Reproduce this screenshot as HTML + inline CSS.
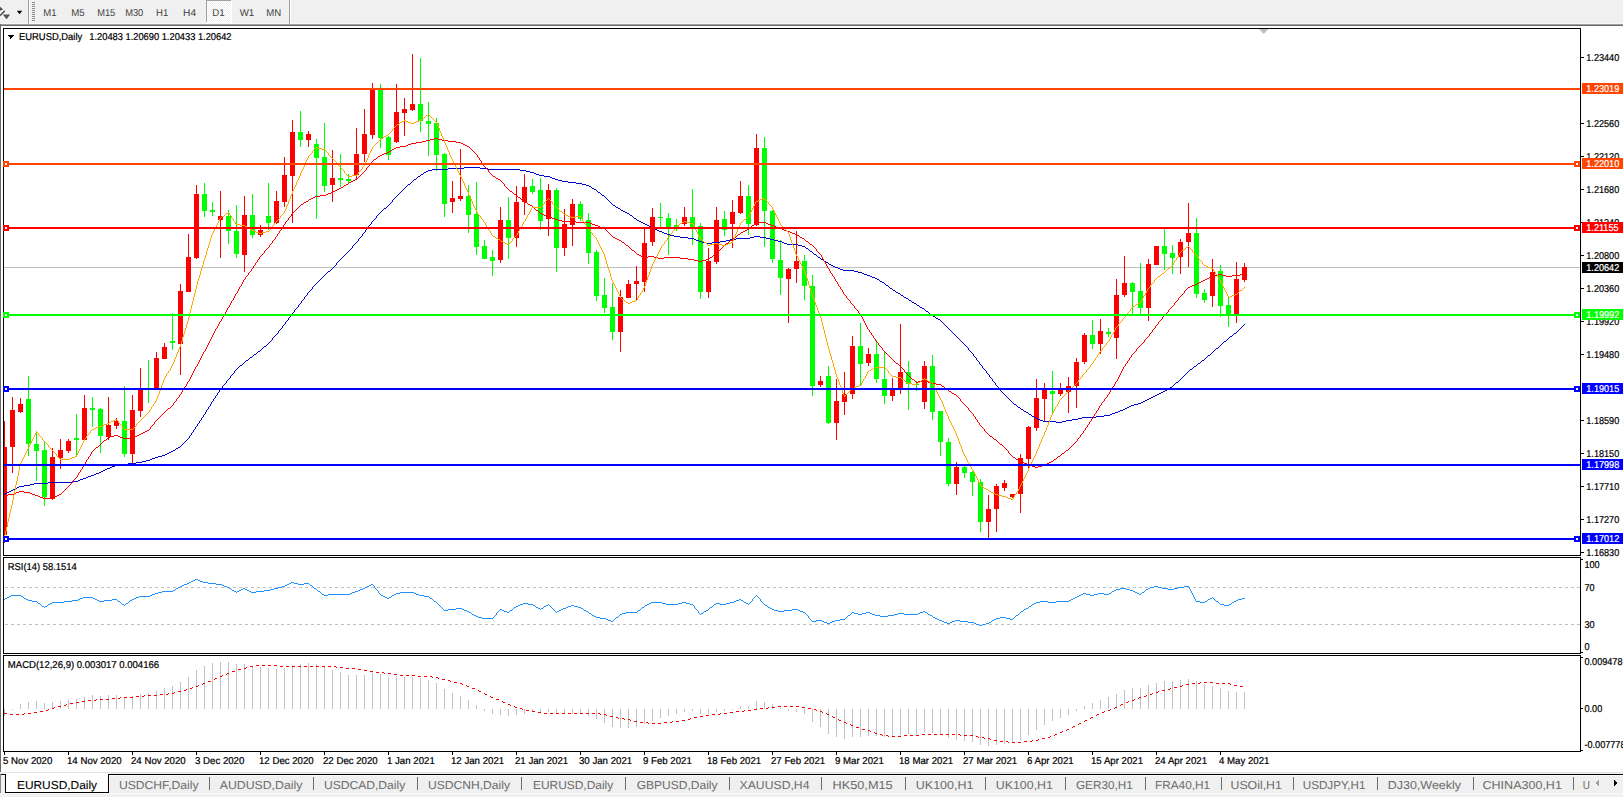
<!DOCTYPE html>
<html><head><meta charset="utf-8"><title>EURUSD,Daily</title>
<style>
html,body{margin:0;padding:0;background:#f0f0f0;}
body{width:1623px;height:797px;overflow:hidden;position:relative;}
svg{position:absolute;left:0;top:0;display:block;}
text{white-space:pre;text-rendering:geometricPrecision;}
</style></head><body>
<svg width="1623" height="797" viewBox="0 0 1623 797" shape-rendering="crispEdges">
<rect x="0" y="0" width="1623" height="23" fill="#f0f0f0"/>
<rect x="0" y="23" width="1623" height="1" fill="#f7f7f7"/>
<rect x="0" y="24" width="1623" height="1" fill="#a0a0a0"/>
<rect x="0" y="25" width="1623" height="1" fill="#696969"/>
<g shape-rendering="auto">
<path d="M0 6.5 L3.2 9.6 L0 10.8 Z" fill="#505050" stroke="#fff" stroke-width="0.8" paint-order="stroke"/>
<path d="M0 15.6 L4.7 10.9" stroke="#fff" stroke-width="3.2" fill="none"/>
<path d="M0 15.6 L4.7 10.9" stroke="#505050" stroke-width="1.7" fill="none"/>
<path d="M2.8 14.6 L10.2 14.6 L6.5 19.2 Z" fill="#505050" stroke="#fff" stroke-width="0.8" paint-order="stroke"/>
<path d="M16.8 10.8 L22.3 10.8 L19.55 14.2 Z" fill="#000" stroke="#fff" stroke-width="0.8" paint-order="stroke"/>
</g>
<rect x="28" y="0" width="1" height="24" fill="#a0a0a0"/>
<rect x="29" y="0" width="1" height="24" fill="#fdfdfd"/>
<rect x="32" y="2" width="3" height="1" fill="#8a8a8a"/>
<rect x="32" y="4" width="3" height="1" fill="#8a8a8a"/>
<rect x="32" y="6" width="3" height="1" fill="#8a8a8a"/>
<rect x="32" y="8" width="3" height="1" fill="#8a8a8a"/>
<rect x="32" y="10" width="3" height="1" fill="#8a8a8a"/>
<rect x="32" y="12" width="3" height="1" fill="#8a8a8a"/>
<rect x="32" y="14" width="3" height="1" fill="#8a8a8a"/>
<rect x="32" y="16" width="3" height="1" fill="#8a8a8a"/>
<rect x="32" y="18" width="3" height="1" fill="#8a8a8a"/>
<rect x="32" y="20" width="3" height="1" fill="#8a8a8a"/>
<defs><pattern id="chk" width="2" height="2" patternUnits="userSpaceOnUse"><rect width="2" height="2" fill="#f0f0f0"/><rect width="1" height="1" fill="#fff"/><rect x="1" y="1" width="1" height="1" fill="#fff"/></pattern></defs>
<rect x="207" y="1" width="24" height="21" fill="url(#chk)"/>
<rect x="206" y="0" width="25" height="1" fill="#a0a0a0"/>
<rect x="206" y="0" width="1" height="22" fill="#a0a0a0"/>
<rect x="231" y="0" width="1" height="23" fill="#ffffff"/>
<rect x="206" y="22" width="26" height="1" fill="#ffffff"/>
<rect x="289" y="0" width="1" height="24" fill="#a0a0a0"/>
<rect x="290" y="0" width="1" height="24" fill="#fdfdfd"/>
<text x="43.3" y="16.2" fill="#404040" style="font-family:'Liberation Sans',Arial,sans-serif;font-size:10px" textLength="13.3" lengthAdjust="spacingAndGlyphs">M1</text>
<text x="71.15" y="16.2" fill="#404040" style="font-family:'Liberation Sans',Arial,sans-serif;font-size:10px" textLength="13.5" lengthAdjust="spacingAndGlyphs">M5</text>
<text x="97.2" y="16.2" fill="#404040" style="font-family:'Liberation Sans',Arial,sans-serif;font-size:10px" textLength="18.0" lengthAdjust="spacingAndGlyphs">M15</text>
<text x="125.2" y="16.2" fill="#404040" style="font-family:'Liberation Sans',Arial,sans-serif;font-size:10px" textLength="18.1" lengthAdjust="spacingAndGlyphs">M30</text>
<text x="156.1" y="16.2" fill="#404040" style="font-family:'Liberation Sans',Arial,sans-serif;font-size:10px" textLength="12.2" lengthAdjust="spacingAndGlyphs">H1</text>
<text x="183.1" y="16.2" fill="#404040" style="font-family:'Liberation Sans',Arial,sans-serif;font-size:10px" textLength="13.0" lengthAdjust="spacingAndGlyphs">H4</text>
<text x="212.3" y="16.2" fill="#404040" style="font-family:'Liberation Sans',Arial,sans-serif;font-size:10px" textLength="12.3" lengthAdjust="spacingAndGlyphs">D1</text>
<text x="239.70000000000002" y="16.2" fill="#404040" style="font-family:'Liberation Sans',Arial,sans-serif;font-size:10px" textLength="14.5" lengthAdjust="spacingAndGlyphs">W1</text>
<text x="266.29999999999995" y="16.2" fill="#404040" style="font-family:'Liberation Sans',Arial,sans-serif;font-size:10px" textLength="14.9" lengthAdjust="spacingAndGlyphs">MN</text>
<rect x="0" y="24" width="1" height="748" fill="#696969"/>
<rect x="1" y="26" width="1622" height="746" fill="#ffffff"/>
<clipPath id="cm"><rect x="4" y="29" width="1576" height="526"/></clipPath>
<clipPath id="cr"><rect x="4" y="558" width="1576" height="95"/></clipPath>
<clipPath id="cd"><rect x="4" y="656" width="1576" height="95"/></clipPath>
<g clip-path="url(#cm)">
<rect x="4" y="267" width="1576" height="1" fill="#c0c0c0"/>
<path d="M1259 29 L1268.5 29 L1263.7 34 Z" fill="#c0c0c0" shape-rendering="auto"/>
<rect x="4" y="421" width="1" height="122" fill="#ff0000"/>
<rect x="2" y="447" width="5" height="88" fill="#ff0000"/>
<rect x="12" y="397" width="1" height="76" fill="#ff0000"/>
<rect x="10" y="410" width="5" height="37" fill="#ff0000"/>
<rect x="20" y="398" width="1" height="15" fill="#ff0000"/>
<rect x="18" y="404" width="5" height="8" fill="#ff0000"/>
<rect x="28" y="376" width="1" height="80" fill="#00ff00"/>
<rect x="26" y="399" width="5" height="45" fill="#00ff00"/>
<rect x="36" y="431" width="1" height="50" fill="#00ff00"/>
<rect x="34" y="444" width="5" height="7" fill="#00ff00"/>
<rect x="44" y="442" width="1" height="64" fill="#00ff00"/>
<rect x="42" y="450" width="5" height="47" fill="#00ff00"/>
<rect x="52" y="448" width="1" height="52" fill="#ff0000"/>
<rect x="50" y="457" width="5" height="42" fill="#ff0000"/>
<rect x="60" y="439" width="1" height="30" fill="#ff0000"/>
<rect x="58" y="450" width="5" height="8" fill="#ff0000"/>
<rect x="68" y="439" width="1" height="14" fill="#ff0000"/>
<rect x="66" y="441" width="5" height="10" fill="#ff0000"/>
<rect x="76" y="414" width="1" height="43" fill="#00ff00"/>
<rect x="74" y="438" width="5" height="2" fill="#00ff00"/>
<rect x="84" y="395" width="1" height="46" fill="#ff0000"/>
<rect x="82" y="408" width="5" height="32" fill="#ff0000"/>
<rect x="92" y="397" width="1" height="30" fill="#00ff00"/>
<rect x="90" y="408" width="5" height="2" fill="#00ff00"/>
<rect x="100" y="408" width="1" height="45" fill="#00ff00"/>
<rect x="98" y="409" width="5" height="27" fill="#00ff00"/>
<rect x="108" y="397" width="1" height="43" fill="#ff0000"/>
<rect x="106" y="425" width="5" height="12" fill="#ff0000"/>
<rect x="116" y="418" width="1" height="11" fill="#ff0000"/>
<rect x="114" y="421" width="5" height="5" fill="#ff0000"/>
<rect x="124" y="386" width="1" height="71" fill="#00ff00"/>
<rect x="122" y="421" width="5" height="33" fill="#00ff00"/>
<rect x="132" y="395" width="1" height="69" fill="#ff0000"/>
<rect x="130" y="410" width="5" height="44" fill="#ff0000"/>
<rect x="140" y="368" width="1" height="49" fill="#ff0000"/>
<rect x="138" y="390" width="5" height="21" fill="#ff0000"/>
<rect x="148" y="360" width="1" height="43" fill="#00ff00"/>
<rect x="146" y="389" width="5" height="1" fill="#00ff00"/>
<rect x="156" y="352" width="1" height="36" fill="#ff0000"/>
<rect x="154" y="358" width="5" height="30" fill="#ff0000"/>
<rect x="164" y="343" width="1" height="16" fill="#ff0000"/>
<rect x="162" y="347" width="5" height="12" fill="#ff0000"/>
<rect x="172" y="313" width="1" height="37" fill="#00ff00"/>
<rect x="170" y="341" width="5" height="2" fill="#00ff00"/>
<rect x="180" y="284" width="1" height="91" fill="#ff0000"/>
<rect x="178" y="291" width="5" height="53" fill="#ff0000"/>
<rect x="188" y="234" width="1" height="58" fill="#ff0000"/>
<rect x="186" y="257" width="5" height="35" fill="#ff0000"/>
<rect x="196" y="185" width="1" height="74" fill="#ff0000"/>
<rect x="194" y="194" width="5" height="64" fill="#ff0000"/>
<rect x="204" y="183" width="1" height="34" fill="#00ff00"/>
<rect x="202" y="194" width="5" height="17" fill="#00ff00"/>
<rect x="212" y="202" width="1" height="14" fill="#00ff00"/>
<rect x="210" y="210" width="5" height="2" fill="#00ff00"/>
<rect x="220" y="191" width="1" height="67" fill="#ff0000"/>
<rect x="218" y="216" width="5" height="4" fill="#ff0000"/>
<rect x="228" y="210" width="1" height="34" fill="#00ff00"/>
<rect x="226" y="216" width="5" height="15" fill="#00ff00"/>
<rect x="236" y="205" width="1" height="53" fill="#00ff00"/>
<rect x="234" y="231" width="5" height="23" fill="#00ff00"/>
<rect x="244" y="196" width="1" height="76" fill="#ff0000"/>
<rect x="242" y="215" width="5" height="40" fill="#ff0000"/>
<rect x="252" y="194" width="1" height="44" fill="#00ff00"/>
<rect x="250" y="215" width="5" height="20" fill="#00ff00"/>
<rect x="260" y="225" width="1" height="12" fill="#ff0000"/>
<rect x="258" y="230" width="5" height="5" fill="#ff0000"/>
<rect x="268" y="183" width="1" height="47" fill="#00ff00"/>
<rect x="266" y="216" width="5" height="7" fill="#00ff00"/>
<rect x="276" y="191" width="1" height="33" fill="#ff0000"/>
<rect x="274" y="201" width="5" height="22" fill="#ff0000"/>
<rect x="284" y="157" width="1" height="50" fill="#ff0000"/>
<rect x="282" y="175" width="5" height="27" fill="#ff0000"/>
<rect x="292" y="120" width="1" height="103" fill="#ff0000"/>
<rect x="290" y="132" width="5" height="44" fill="#ff0000"/>
<rect x="300" y="111" width="1" height="36" fill="#00ff00"/>
<rect x="298" y="132" width="5" height="8" fill="#00ff00"/>
<rect x="308" y="131" width="1" height="16" fill="#ff0000"/>
<rect x="306" y="134" width="5" height="6" fill="#ff0000"/>
<rect x="316" y="139" width="1" height="80" fill="#00ff00"/>
<rect x="314" y="144" width="5" height="14" fill="#00ff00"/>
<rect x="324" y="123" width="1" height="69" fill="#00ff00"/>
<rect x="322" y="157" width="5" height="29" fill="#00ff00"/>
<rect x="332" y="150" width="1" height="52" fill="#ff0000"/>
<rect x="330" y="178" width="5" height="7" fill="#ff0000"/>
<rect x="340" y="154" width="1" height="33" fill="#00ff00"/>
<rect x="338" y="178" width="5" height="2" fill="#00ff00"/>
<rect x="348" y="174" width="1" height="9" fill="#00ff00"/>
<rect x="346" y="179" width="5" height="2" fill="#00ff00"/>
<rect x="356" y="128" width="1" height="52" fill="#ff0000"/>
<rect x="354" y="154" width="5" height="21" fill="#ff0000"/>
<rect x="364" y="109" width="1" height="53" fill="#ff0000"/>
<rect x="362" y="134" width="5" height="20" fill="#ff0000"/>
<rect x="372" y="83" width="1" height="56" fill="#ff0000"/>
<rect x="370" y="90" width="5" height="45" fill="#ff0000"/>
<rect x="380" y="84" width="1" height="64" fill="#00ff00"/>
<rect x="378" y="90" width="5" height="48" fill="#00ff00"/>
<rect x="388" y="136" width="1" height="24" fill="#00ff00"/>
<rect x="386" y="137" width="5" height="18" fill="#00ff00"/>
<rect x="396" y="84" width="1" height="59" fill="#ff0000"/>
<rect x="394" y="112" width="5" height="30" fill="#ff0000"/>
<rect x="404" y="98" width="1" height="38" fill="#ff0000"/>
<rect x="402" y="109" width="5" height="4" fill="#ff0000"/>
<rect x="412" y="54" width="1" height="57" fill="#ff0000"/>
<rect x="410" y="104" width="5" height="6" fill="#ff0000"/>
<rect x="420" y="58" width="1" height="74" fill="#00ff00"/>
<rect x="418" y="104" width="5" height="17" fill="#00ff00"/>
<rect x="428" y="102" width="1" height="54" fill="#00ff00"/>
<rect x="426" y="121" width="5" height="3" fill="#00ff00"/>
<rect x="436" y="118" width="1" height="53" fill="#00ff00"/>
<rect x="434" y="123" width="5" height="32" fill="#00ff00"/>
<rect x="444" y="153" width="1" height="64" fill="#00ff00"/>
<rect x="442" y="154" width="5" height="50" fill="#00ff00"/>
<rect x="452" y="181" width="1" height="32" fill="#ff0000"/>
<rect x="450" y="198" width="5" height="4" fill="#ff0000"/>
<rect x="460" y="149" width="1" height="52" fill="#ff0000"/>
<rect x="458" y="196" width="5" height="3" fill="#ff0000"/>
<rect x="468" y="185" width="1" height="48" fill="#00ff00"/>
<rect x="466" y="196" width="5" height="19" fill="#00ff00"/>
<rect x="476" y="182" width="1" height="73" fill="#00ff00"/>
<rect x="474" y="214" width="5" height="33" fill="#00ff00"/>
<rect x="484" y="240" width="1" height="19" fill="#00ff00"/>
<rect x="482" y="246" width="5" height="13" fill="#00ff00"/>
<rect x="492" y="250" width="1" height="26" fill="#00ff00"/>
<rect x="490" y="257" width="5" height="4" fill="#00ff00"/>
<rect x="500" y="207" width="1" height="56" fill="#ff0000"/>
<rect x="498" y="220" width="5" height="40" fill="#ff0000"/>
<rect x="508" y="197" width="1" height="62" fill="#00ff00"/>
<rect x="506" y="220" width="5" height="18" fill="#00ff00"/>
<rect x="516" y="186" width="1" height="61" fill="#ff0000"/>
<rect x="514" y="202" width="5" height="36" fill="#ff0000"/>
<rect x="524" y="174" width="1" height="41" fill="#ff0000"/>
<rect x="522" y="187" width="5" height="15" fill="#ff0000"/>
<rect x="532" y="179" width="1" height="15" fill="#00ff00"/>
<rect x="530" y="186" width="5" height="6" fill="#00ff00"/>
<rect x="540" y="178" width="1" height="52" fill="#00ff00"/>
<rect x="538" y="190" width="5" height="31" fill="#00ff00"/>
<rect x="548" y="184" width="1" height="52" fill="#ff0000"/>
<rect x="546" y="190" width="5" height="29" fill="#ff0000"/>
<rect x="556" y="188" width="1" height="84" fill="#00ff00"/>
<rect x="554" y="190" width="5" height="58" fill="#00ff00"/>
<rect x="564" y="209" width="1" height="47" fill="#ff0000"/>
<rect x="562" y="224" width="5" height="24" fill="#ff0000"/>
<rect x="572" y="199" width="1" height="47" fill="#ff0000"/>
<rect x="570" y="204" width="5" height="21" fill="#ff0000"/>
<rect x="580" y="201" width="1" height="20" fill="#00ff00"/>
<rect x="578" y="204" width="5" height="15" fill="#00ff00"/>
<rect x="588" y="213" width="1" height="51" fill="#00ff00"/>
<rect x="586" y="220" width="5" height="33" fill="#00ff00"/>
<rect x="596" y="250" width="1" height="51" fill="#00ff00"/>
<rect x="594" y="252" width="5" height="44" fill="#00ff00"/>
<rect x="604" y="278" width="1" height="35" fill="#00ff00"/>
<rect x="602" y="295" width="5" height="13" fill="#00ff00"/>
<rect x="612" y="283" width="1" height="57" fill="#00ff00"/>
<rect x="610" y="307" width="5" height="25" fill="#00ff00"/>
<rect x="620" y="290" width="1" height="62" fill="#ff0000"/>
<rect x="618" y="297" width="5" height="35" fill="#ff0000"/>
<rect x="628" y="280" width="1" height="18" fill="#ff0000"/>
<rect x="626" y="284" width="5" height="14" fill="#ff0000"/>
<rect x="636" y="266" width="1" height="35" fill="#ff0000"/>
<rect x="634" y="281" width="5" height="3" fill="#ff0000"/>
<rect x="644" y="228" width="1" height="64" fill="#ff0000"/>
<rect x="642" y="243" width="5" height="39" fill="#ff0000"/>
<rect x="652" y="208" width="1" height="38" fill="#ff0000"/>
<rect x="650" y="217" width="5" height="25" fill="#ff0000"/>
<rect x="660" y="203" width="1" height="26" fill="#00ff00"/>
<rect x="658" y="217" width="5" height="1" fill="#00ff00"/>
<rect x="668" y="213" width="1" height="42" fill="#00ff00"/>
<rect x="666" y="218" width="5" height="9" fill="#00ff00"/>
<rect x="676" y="219" width="1" height="12" fill="#00ff00"/>
<rect x="674" y="225" width="5" height="4" fill="#00ff00"/>
<rect x="684" y="207" width="1" height="19" fill="#ff0000"/>
<rect x="682" y="217" width="5" height="7" fill="#ff0000"/>
<rect x="692" y="189" width="1" height="56" fill="#00ff00"/>
<rect x="690" y="217" width="5" height="10" fill="#00ff00"/>
<rect x="700" y="223" width="1" height="76" fill="#00ff00"/>
<rect x="698" y="226" width="5" height="66" fill="#00ff00"/>
<rect x="708" y="248" width="1" height="50" fill="#ff0000"/>
<rect x="706" y="261" width="5" height="31" fill="#ff0000"/>
<rect x="716" y="207" width="1" height="57" fill="#ff0000"/>
<rect x="714" y="220" width="5" height="42" fill="#ff0000"/>
<rect x="724" y="211" width="1" height="25" fill="#00ff00"/>
<rect x="722" y="219" width="5" height="11" fill="#00ff00"/>
<rect x="732" y="200" width="1" height="48" fill="#ff0000"/>
<rect x="730" y="212" width="5" height="12" fill="#ff0000"/>
<rect x="740" y="181" width="1" height="33" fill="#ff0000"/>
<rect x="738" y="196" width="5" height="17" fill="#ff0000"/>
<rect x="748" y="185" width="1" height="50" fill="#00ff00"/>
<rect x="746" y="196" width="5" height="28" fill="#00ff00"/>
<rect x="756" y="134" width="1" height="92" fill="#ff0000"/>
<rect x="754" y="148" width="5" height="77" fill="#ff0000"/>
<rect x="764" y="137" width="1" height="110" fill="#00ff00"/>
<rect x="762" y="148" width="5" height="63" fill="#00ff00"/>
<rect x="772" y="210" width="1" height="53" fill="#00ff00"/>
<rect x="770" y="211" width="5" height="48" fill="#00ff00"/>
<rect x="780" y="240" width="1" height="55" fill="#00ff00"/>
<rect x="778" y="260" width="5" height="18" fill="#00ff00"/>
<rect x="788" y="268" width="1" height="55" fill="#ff0000"/>
<rect x="786" y="269" width="5" height="10" fill="#ff0000"/>
<rect x="796" y="231" width="1" height="52" fill="#ff0000"/>
<rect x="794" y="261" width="5" height="8" fill="#ff0000"/>
<rect x="804" y="255" width="1" height="45" fill="#00ff00"/>
<rect x="802" y="261" width="5" height="25" fill="#00ff00"/>
<rect x="812" y="275" width="1" height="121" fill="#00ff00"/>
<rect x="810" y="286" width="5" height="100" fill="#00ff00"/>
<rect x="820" y="376" width="1" height="11" fill="#ff0000"/>
<rect x="818" y="381" width="5" height="4" fill="#ff0000"/>
<rect x="828" y="366" width="1" height="58" fill="#00ff00"/>
<rect x="826" y="376" width="5" height="47" fill="#00ff00"/>
<rect x="836" y="379" width="1" height="61" fill="#ff0000"/>
<rect x="834" y="401" width="5" height="22" fill="#ff0000"/>
<rect x="844" y="372" width="1" height="43" fill="#ff0000"/>
<rect x="842" y="394" width="5" height="8" fill="#ff0000"/>
<rect x="852" y="336" width="1" height="63" fill="#ff0000"/>
<rect x="850" y="346" width="5" height="48" fill="#ff0000"/>
<rect x="860" y="323" width="1" height="63" fill="#00ff00"/>
<rect x="858" y="346" width="5" height="18" fill="#00ff00"/>
<rect x="868" y="348" width="1" height="18" fill="#ff0000"/>
<rect x="866" y="354" width="5" height="9" fill="#ff0000"/>
<rect x="876" y="340" width="1" height="43" fill="#00ff00"/>
<rect x="874" y="354" width="5" height="25" fill="#00ff00"/>
<rect x="884" y="352" width="1" height="52" fill="#00ff00"/>
<rect x="882" y="379" width="5" height="17" fill="#00ff00"/>
<rect x="892" y="378" width="1" height="23" fill="#ff0000"/>
<rect x="890" y="388" width="5" height="8" fill="#ff0000"/>
<rect x="900" y="324" width="1" height="70" fill="#ff0000"/>
<rect x="898" y="372" width="5" height="16" fill="#ff0000"/>
<rect x="908" y="361" width="1" height="49" fill="#00ff00"/>
<rect x="906" y="372" width="5" height="12" fill="#00ff00"/>
<rect x="916" y="381" width="1" height="10" fill="#00ff00"/>
<rect x="914" y="384" width="5" height="1" fill="#00ff00"/>
<rect x="924" y="361" width="1" height="48" fill="#ff0000"/>
<rect x="922" y="366" width="5" height="36" fill="#ff0000"/>
<rect x="932" y="355" width="1" height="65" fill="#00ff00"/>
<rect x="930" y="366" width="5" height="46" fill="#00ff00"/>
<rect x="940" y="411" width="1" height="45" fill="#00ff00"/>
<rect x="938" y="411" width="5" height="31" fill="#00ff00"/>
<rect x="948" y="438" width="1" height="48" fill="#00ff00"/>
<rect x="946" y="442" width="5" height="42" fill="#00ff00"/>
<rect x="956" y="462" width="1" height="33" fill="#ff0000"/>
<rect x="954" y="467" width="5" height="17" fill="#ff0000"/>
<rect x="964" y="466" width="1" height="12" fill="#00ff00"/>
<rect x="962" y="467" width="5" height="6" fill="#00ff00"/>
<rect x="972" y="471" width="1" height="25" fill="#00ff00"/>
<rect x="970" y="472" width="5" height="10" fill="#00ff00"/>
<rect x="980" y="479" width="1" height="53" fill="#00ff00"/>
<rect x="978" y="482" width="5" height="40" fill="#00ff00"/>
<rect x="988" y="495" width="1" height="43" fill="#ff0000"/>
<rect x="986" y="509" width="5" height="13" fill="#ff0000"/>
<rect x="996" y="484" width="1" height="48" fill="#ff0000"/>
<rect x="994" y="486" width="5" height="23" fill="#ff0000"/>
<rect x="1004" y="480" width="1" height="11" fill="#ff0000"/>
<rect x="1002" y="483" width="5" height="5" fill="#ff0000"/>
<rect x="1012" y="494" width="1" height="4" fill="#ff0000"/>
<rect x="1010" y="494" width="5" height="3" fill="#ff0000"/>
<rect x="1020" y="454" width="1" height="59" fill="#ff0000"/>
<rect x="1018" y="458" width="5" height="36" fill="#ff0000"/>
<rect x="1028" y="426" width="1" height="43" fill="#ff0000"/>
<rect x="1026" y="427" width="5" height="32" fill="#ff0000"/>
<rect x="1036" y="379" width="1" height="52" fill="#ff0000"/>
<rect x="1034" y="398" width="5" height="30" fill="#ff0000"/>
<rect x="1044" y="383" width="1" height="38" fill="#ff0000"/>
<rect x="1042" y="388" width="5" height="11" fill="#ff0000"/>
<rect x="1052" y="371" width="1" height="44" fill="#00ff00"/>
<rect x="1050" y="391" width="5" height="3" fill="#00ff00"/>
<rect x="1060" y="383" width="1" height="13" fill="#ff0000"/>
<rect x="1058" y="390" width="5" height="4" fill="#ff0000"/>
<rect x="1068" y="377" width="1" height="36" fill="#ff0000"/>
<rect x="1066" y="386" width="5" height="6" fill="#ff0000"/>
<rect x="1076" y="358" width="1" height="50" fill="#ff0000"/>
<rect x="1074" y="362" width="5" height="24" fill="#ff0000"/>
<rect x="1084" y="333" width="1" height="31" fill="#ff0000"/>
<rect x="1082" y="335" width="5" height="27" fill="#ff0000"/>
<rect x="1092" y="320" width="1" height="29" fill="#00ff00"/>
<rect x="1090" y="335" width="5" height="9" fill="#00ff00"/>
<rect x="1100" y="319" width="1" height="35" fill="#ff0000"/>
<rect x="1098" y="331" width="5" height="13" fill="#ff0000"/>
<rect x="1108" y="328" width="1" height="9" fill="#00ff00"/>
<rect x="1106" y="332" width="5" height="2" fill="#00ff00"/>
<rect x="1116" y="279" width="1" height="80" fill="#ff0000"/>
<rect x="1114" y="295" width="5" height="43" fill="#ff0000"/>
<rect x="1124" y="256" width="1" height="41" fill="#ff0000"/>
<rect x="1122" y="283" width="5" height="12" fill="#ff0000"/>
<rect x="1132" y="282" width="1" height="34" fill="#00ff00"/>
<rect x="1130" y="283" width="5" height="9" fill="#00ff00"/>
<rect x="1140" y="263" width="1" height="51" fill="#00ff00"/>
<rect x="1138" y="291" width="5" height="17" fill="#00ff00"/>
<rect x="1148" y="259" width="1" height="62" fill="#ff0000"/>
<rect x="1146" y="264" width="5" height="44" fill="#ff0000"/>
<rect x="1156" y="246" width="1" height="19" fill="#ff0000"/>
<rect x="1154" y="246" width="5" height="19" fill="#ff0000"/>
<rect x="1164" y="229" width="1" height="41" fill="#00ff00"/>
<rect x="1162" y="246" width="5" height="8" fill="#00ff00"/>
<rect x="1172" y="245" width="1" height="29" fill="#00ff00"/>
<rect x="1170" y="253" width="5" height="5" fill="#00ff00"/>
<rect x="1180" y="239" width="1" height="35" fill="#ff0000"/>
<rect x="1178" y="242" width="5" height="15" fill="#ff0000"/>
<rect x="1188" y="203" width="1" height="64" fill="#ff0000"/>
<rect x="1186" y="233" width="5" height="9" fill="#ff0000"/>
<rect x="1196" y="218" width="1" height="80" fill="#00ff00"/>
<rect x="1194" y="233" width="5" height="61" fill="#00ff00"/>
<rect x="1204" y="289" width="1" height="14" fill="#00ff00"/>
<rect x="1202" y="293" width="5" height="7" fill="#00ff00"/>
<rect x="1212" y="259" width="1" height="48" fill="#ff0000"/>
<rect x="1210" y="272" width="5" height="24" fill="#ff0000"/>
<rect x="1220" y="265" width="1" height="52" fill="#00ff00"/>
<rect x="1218" y="271" width="5" height="35" fill="#00ff00"/>
<rect x="1228" y="298" width="1" height="29" fill="#00ff00"/>
<rect x="1226" y="305" width="5" height="9" fill="#00ff00"/>
<rect x="1236" y="262" width="1" height="61" fill="#ff0000"/>
<rect x="1234" y="279" width="5" height="35" fill="#ff0000"/>
<rect x="1244" y="263" width="1" height="19" fill="#ff0000"/>
<rect x="1242" y="267" width="5" height="13" fill="#ff0000"/>
<path d="M464 167h16v1h-16zM448 168h16v1h-16zM480 168h8v1h-8zM432 169h16v1h-16zM488 169h32v1h-32zM428 170h4v1h-4zM520 170h6v1h-6zM426 171h2v1h-2zM526 171h4v1h-4zM424 172h2v1h-2zM530 172h4v1h-4zM423 173h1v1h-1zM534 173h2v1h-2zM421 174h2v1h-2zM536 174h3v1h-3zM420 175h1v1h-1zM539 175h5v1h-5zM418 176h2v1h-2zM544 176h6v1h-6zM417 177h1v1h-1zM550 177h2v1h-2zM416 178h1v1h-1zM552 178h3v1h-3zM414 179h2v1h-2zM555 179h3v1h-3zM413 180h1v1h-1zM558 180h4v1h-4zM412 181h1v1h-1zM562 181h6v1h-6zM411 182h1v1h-1zM568 182h8v1h-8zM410 183h1v1h-1zM576 183h6v1h-6zM408 184h2v1h-2zM582 184h4v1h-4zM407 185h1v1h-1zM586 185h3v1h-3zM406 186h1v1h-1zM589 186h2v1h-2zM405 187h1v1h-1zM591 187h1v1h-1zM404 188h1v1h-1zM592 188h2v1h-2zM403 189h1v1h-1zM594 189h2v1h-2zM402 190h1v1h-1zM596 190h1v1h-1zM401 191h1v1h-1zM597 191h1v1h-1zM400 192h1v1h-1zM598 192h2v1h-2zM399 193h1v1h-1zM600 193h1v1h-1zM398 194h1v1h-1zM601 194h1v1h-1zM397 195h1v1h-1zM602 195h2v1h-2zM396 196h1v1h-1zM604 196h1v1h-1zM395 197h1v1h-1zM605 197h1v1h-1zM394 198h1v1h-1zM606 198h1v1h-1zM393 199h1v1h-1zM607 199h1v1h-1zM392 200h1v1h-1zM608 200h1v1h-1zM392 201h1v1h-1zM609 201h1v1h-1zM391 202h1v1h-1zM610 202h1v1h-1zM390 203h1v1h-1zM611 203h1v1h-1zM389 204h1v1h-1zM612 204h1v1h-1zM388 205h1v1h-1zM613 205h2v1h-2zM387 206h1v1h-1zM615 206h1v1h-1zM386 207h1v1h-1zM616 207h2v1h-2zM384 208h2v1h-2zM618 208h2v1h-2zM383 209h1v1h-1zM620 209h1v1h-1zM382 210h1v1h-1zM621 210h2v1h-2zM381 211h1v1h-1zM623 211h2v1h-2zM380 212h1v1h-1zM625 212h2v1h-2zM379 213h1v1h-1zM627 213h2v1h-2zM378 214h1v1h-1zM629 214h1v1h-1zM377 215h1v1h-1zM630 215h2v1h-2zM376 216h1v1h-1zM632 216h1v1h-1zM376 217h1v1h-1zM633 217h1v1h-1zM375 218h1v1h-1zM634 218h2v1h-2zM374 219h1v1h-1zM636 219h1v1h-1zM373 220h1v1h-1zM637 220h2v1h-2zM372 221h1v1h-1zM639 221h2v1h-2zM371 222h1v1h-1zM641 222h2v1h-2zM371 223h1v1h-1zM643 223h2v1h-2zM370 224h1v1h-1zM645 224h2v1h-2zM369 225h1v1h-1zM647 225h2v1h-2zM368 226h1v1h-1zM649 226h2v1h-2zM368 227h1v1h-1zM651 227h2v1h-2zM367 228h1v1h-1zM653 228h2v1h-2zM366 229h1v1h-1zM655 229h2v1h-2zM365 230h1v1h-1zM657 230h2v1h-2zM365 231h1v1h-1zM659 231h3v1h-3zM364 232h1v1h-1zM662 232h2v1h-2zM363 233h1v1h-1zM664 233h3v1h-3zM362 234h1v1h-1zM667 234h3v1h-3zM362 235h1v1h-1zM670 235h4v1h-4zM361 236h1v1h-1zM674 236h6v1h-6zM754 236h6v1h-6zM360 237h1v1h-1zM680 237h8v1h-8zM750 237h4v1h-4zM760 237h6v1h-6zM359 238h1v1h-1zM688 238h6v1h-6zM736 238h14v1h-14zM766 238h4v1h-4zM358 239h1v1h-1zM694 239h2v1h-2zM730 239h6v1h-6zM770 239h4v1h-4zM358 240h1v1h-1zM696 240h3v1h-3zM726 240h4v1h-4zM774 240h4v1h-4zM357 241h1v1h-1zM699 241h3v1h-3zM720 241h6v1h-6zM778 241h4v1h-4zM356 242h1v1h-1zM702 242h4v1h-4zM712 242h8v1h-8zM782 242h2v1h-2zM355 243h1v1h-1zM706 243h6v1h-6zM784 243h3v1h-3zM354 244h1v1h-1zM787 244h11v1h-11zM353 245h1v1h-1zM798 245h4v1h-4zM352 246h1v1h-1zM802 246h3v1h-3zM352 247h1v1h-1zM805 247h1v1h-1zM351 248h1v1h-1zM806 248h2v1h-2zM350 249h1v1h-1zM808 249h1v1h-1zM349 250h1v1h-1zM809 250h1v1h-1zM348 251h1v1h-1zM810 251h2v1h-2zM347 252h1v1h-1zM812 252h1v1h-1zM346 253h1v1h-1zM813 253h1v1h-1zM345 254h1v1h-1zM814 254h2v1h-2zM344 255h1v1h-1zM816 255h1v1h-1zM343 256h1v1h-1zM817 256h1v1h-1zM342 257h1v1h-1zM818 257h2v1h-2zM341 258h1v1h-1zM820 258h1v1h-1zM340 259h1v1h-1zM821 259h2v1h-2zM339 260h1v1h-1zM823 260h1v1h-1zM338 261h1v1h-1zM824 261h2v1h-2zM337 262h1v1h-1zM826 262h2v1h-2zM336 263h1v1h-1zM828 263h1v1h-1zM336 264h1v1h-1zM829 264h2v1h-2zM335 265h1v1h-1zM831 265h2v1h-2zM334 266h1v1h-1zM833 266h2v1h-2zM333 267h1v1h-1zM835 267h3v1h-3zM332 268h1v1h-1zM838 268h2v1h-2zM331 269h1v1h-1zM840 269h3v1h-3zM330 270h1v1h-1zM843 270h11v1h-11zM328 271h2v1h-2zM854 271h4v1h-4zM327 272h1v1h-1zM858 272h4v1h-4zM326 273h1v1h-1zM862 273h2v1h-2zM325 274h1v1h-1zM864 274h3v1h-3zM324 275h1v1h-1zM867 275h3v1h-3zM323 276h1v1h-1zM870 276h2v1h-2zM322 277h1v1h-1zM872 277h3v1h-3zM321 278h1v1h-1zM875 278h2v1h-2zM320 279h1v1h-1zM877 279h2v1h-2zM319 280h1v1h-1zM879 280h1v1h-1zM318 281h1v1h-1zM880 281h2v1h-2zM317 282h1v1h-1zM882 282h2v1h-2zM316 283h1v1h-1zM884 283h1v1h-1zM315 284h1v1h-1zM885 284h1v1h-1zM314 285h1v1h-1zM886 285h2v1h-2zM313 286h1v1h-1zM888 286h1v1h-1zM312 287h1v1h-1zM889 287h1v1h-1zM312 288h1v1h-1zM890 288h2v1h-2zM311 289h1v1h-1zM892 289h1v1h-1zM310 290h1v1h-1zM893 290h2v1h-2zM309 291h1v1h-1zM895 291h1v1h-1zM308 292h1v1h-1zM896 292h2v1h-2zM307 293h1v1h-1zM898 293h2v1h-2zM307 294h1v1h-1zM900 294h1v1h-1zM306 295h1v1h-1zM901 295h2v1h-2zM305 296h1v1h-1zM903 296h1v1h-1zM304 297h1v1h-1zM904 297h2v1h-2zM304 298h1v1h-1zM906 298h2v1h-2zM303 299h1v1h-1zM908 299h1v1h-1zM302 300h1v1h-1zM909 300h2v1h-2zM301 301h1v1h-1zM911 301h1v1h-1zM301 302h1v1h-1zM912 302h2v1h-2zM300 303h1v1h-1zM914 303h2v1h-2zM299 304h1v1h-1zM916 304h1v1h-1zM298 305h1v1h-1zM917 305h2v1h-2zM298 306h1v1h-1zM919 306h1v1h-1zM297 307h1v1h-1zM920 307h2v1h-2zM296 308h1v1h-1zM922 308h2v1h-2zM295 309h1v1h-1zM924 309h1v1h-1zM294 310h1v1h-1zM925 310h1v1h-1zM294 311h1v1h-1zM926 311h2v1h-2zM293 312h1v1h-1zM928 312h1v1h-1zM292 313h1v1h-1zM929 313h1v1h-1zM291 314h1v1h-1zM930 314h2v1h-2zM291 315h1v1h-1zM932 315h1v1h-1zM290 316h1v1h-1zM933 316h2v1h-2zM289 317h1v1h-1zM935 317h1v1h-1zM288 318h1v1h-1zM936 318h2v1h-2zM288 319h1v1h-1zM938 319h2v1h-2zM287 320h1v1h-1zM940 320h1v1h-1zM286 321h1v1h-1zM941 321h1v1h-1zM285 322h1v1h-1zM942 322h1v1h-1zM285 323h1v1h-1zM943 323h1v1h-1zM284 324h1v1h-1zM944 324h1v1h-1zM1244 324h1v1h-1zM283 325h1v1h-1zM945 325h1v1h-1zM1243 325h1v1h-1zM282 326h1v1h-1zM946 326h1v1h-1zM1242 326h1v1h-1zM282 327h1v1h-1zM947 327h1v1h-1zM1241 327h1v1h-1zM281 328h1v1h-1zM948 328h1v1h-1zM1240 328h1v1h-1zM280 329h1v1h-1zM949 329h1v1h-1zM1239 329h1v1h-1zM279 330h1v1h-1zM950 330h1v1h-1zM1238 330h1v1h-1zM278 331h1v1h-1zM951 331h1v1h-1zM1237 331h1v1h-1zM278 332h1v1h-1zM952 332h1v1h-1zM1236 332h1v1h-1zM277 333h1v1h-1zM953 333h1v1h-1zM1234 333h2v1h-2zM276 334h1v1h-1zM954 334h1v1h-1zM1233 334h1v1h-1zM275 335h1v1h-1zM955 335h1v1h-1zM1232 335h1v1h-1zM274 336h1v1h-1zM956 336h1v1h-1zM1230 336h2v1h-2zM273 337h1v1h-1zM957 337h1v1h-1zM1229 337h1v1h-1zM272 338h1v1h-1zM958 338h1v1h-1zM1228 338h1v1h-1zM272 339h1v1h-1zM959 339h1v1h-1zM1227 339h1v1h-1zM271 340h1v1h-1zM960 340h1v1h-1zM1226 340h1v1h-1zM270 341h1v1h-1zM961 341h1v1h-1zM1224 341h2v1h-2zM269 342h1v1h-1zM962 342h1v1h-1zM1223 342h1v1h-1zM268 343h1v1h-1zM963 343h1v1h-1zM1222 343h1v1h-1zM267 344h1v1h-1zM964 344h1v1h-1zM1221 344h1v1h-1zM266 345h1v1h-1zM965 345h1v1h-1zM1220 345h1v1h-1zM264 346h2v1h-2zM966 346h1v1h-1zM1219 346h1v1h-1zM263 347h1v1h-1zM967 347h1v1h-1zM1218 347h1v1h-1zM262 348h1v1h-1zM968 348h1v1h-1zM1216 348h2v1h-2zM261 349h1v1h-1zM968 349h1v1h-1zM1215 349h1v1h-1zM260 350h1v1h-1zM969 350h1v1h-1zM1214 350h1v1h-1zM258 351h2v1h-2zM970 351h1v1h-1zM1213 351h1v1h-1zM257 352h1v1h-1zM971 352h1v1h-1zM1212 352h1v1h-1zM256 353h1v1h-1zM972 353h1v1h-1zM1211 353h1v1h-1zM254 354h2v1h-2zM973 354h1v1h-1zM1210 354h1v1h-1zM253 355h1v1h-1zM973 355h1v1h-1zM1208 355h2v1h-2zM252 356h1v1h-1zM974 356h1v1h-1zM1207 356h1v1h-1zM250 357h2v1h-2zM975 357h1v1h-1zM1206 357h1v1h-1zM249 358h1v1h-1zM976 358h1v1h-1zM1205 358h1v1h-1zM248 359h1v1h-1zM976 359h1v1h-1zM1204 359h1v1h-1zM246 360h2v1h-2zM977 360h1v1h-1zM1202 360h2v1h-2zM245 361h1v1h-1zM978 361h1v1h-1zM1201 361h1v1h-1zM244 362h1v1h-1zM979 362h1v1h-1zM1200 362h1v1h-1zM243 363h1v1h-1zM979 363h1v1h-1zM1198 363h2v1h-2zM242 364h1v1h-1zM980 364h1v1h-1zM1197 364h1v1h-1zM240 365h2v1h-2zM981 365h1v1h-1zM1196 365h1v1h-1zM239 366h1v1h-1zM982 366h1v1h-1zM1194 366h2v1h-2zM238 367h1v1h-1zM982 367h1v1h-1zM1193 367h1v1h-1zM237 368h1v1h-1zM983 368h1v1h-1zM1192 368h1v1h-1zM236 369h1v1h-1zM984 369h1v1h-1zM1190 369h2v1h-2zM235 370h1v1h-1zM985 370h1v1h-1zM1189 370h1v1h-1zM234 371h1v1h-1zM986 371h1v1h-1zM1188 371h1v1h-1zM234 372h1v1h-1zM986 372h1v1h-1zM1187 372h1v1h-1zM233 373h1v1h-1zM987 373h1v1h-1zM1186 373h1v1h-1zM232 374h1v1h-1zM988 374h1v1h-1zM1185 374h1v1h-1zM231 375h1v1h-1zM989 375h1v1h-1zM1184 375h1v1h-1zM230 376h1v1h-1zM989 376h1v1h-1zM1183 376h1v1h-1zM230 377h1v1h-1zM990 377h1v1h-1zM1182 377h1v1h-1zM229 378h1v1h-1zM991 378h1v1h-1zM1181 378h1v1h-1zM228 379h1v1h-1zM992 379h1v1h-1zM1180 379h1v1h-1zM227 380h1v1h-1zM992 380h1v1h-1zM1179 380h1v1h-1zM226 381h1v1h-1zM993 381h1v1h-1zM1178 381h1v1h-1zM226 382h1v1h-1zM994 382h1v1h-1zM1176 382h2v1h-2zM225 383h1v1h-1zM995 383h1v1h-1zM1175 383h1v1h-1zM224 384h1v1h-1zM995 384h1v1h-1zM1174 384h1v1h-1zM223 385h1v1h-1zM996 385h1v1h-1zM1173 385h1v1h-1zM222 386h1v1h-1zM997 386h1v1h-1zM1172 386h1v1h-1zM222 387h1v1h-1zM998 387h1v1h-1zM1170 387h2v1h-2zM221 388h1v1h-1zM999 388h1v1h-1zM1168 388h2v1h-2zM220 389h1v1h-1zM1000 389h1v1h-1zM1167 389h1v1h-1zM219 390h1v1h-1zM1000 390h1v1h-1zM1165 390h2v1h-2zM219 391h1v1h-1zM1001 391h1v1h-1zM1163 391h2v1h-2zM218 392h1v1h-1zM1002 392h1v1h-1zM1161 392h2v1h-2zM217 393h1v1h-1zM1003 393h1v1h-1zM1159 393h2v1h-2zM217 394h1v1h-1zM1004 394h1v1h-1zM1157 394h2v1h-2zM216 395h1v1h-1zM1005 395h1v1h-1zM1155 395h2v1h-2zM215 396h1v1h-1zM1006 396h1v1h-1zM1153 396h2v1h-2zM215 397h1v1h-1zM1007 397h1v1h-1zM1151 397h2v1h-2zM214 398h1v1h-1zM1008 398h1v1h-1zM1149 398h2v1h-2zM213 399h1v1h-1zM1009 399h1v1h-1zM1147 399h2v1h-2zM213 400h1v1h-1zM1010 400h1v1h-1zM1145 400h2v1h-2zM212 401h1v1h-1zM1011 401h1v1h-1zM1143 401h2v1h-2zM211 402h1v1h-1zM1012 402h1v1h-1zM1141 402h2v1h-2zM211 403h1v1h-1zM1013 403h1v1h-1zM1138 403h3v1h-3zM210 404h1v1h-1zM1014 404h2v1h-2zM1134 404h4v1h-4zM210 405h1v1h-1zM1016 405h1v1h-1zM1131 405h3v1h-3zM209 406h1v1h-1zM1017 406h1v1h-1zM1129 406h2v1h-2zM208 407h1v1h-1zM1018 407h2v1h-2zM1127 407h2v1h-2zM208 408h1v1h-1zM1020 408h1v1h-1zM1125 408h2v1h-2zM207 409h1v1h-1zM1021 409h2v1h-2zM1123 409h2v1h-2zM206 410h1v1h-1zM1023 410h1v1h-1zM1120 410h3v1h-3zM206 411h1v1h-1zM1024 411h2v1h-2zM1118 411h2v1h-2zM205 412h1v1h-1zM1026 412h2v1h-2zM1115 412h3v1h-3zM205 413h1v1h-1zM1028 413h1v1h-1zM1112 413h3v1h-3zM204 414h1v1h-1zM1029 414h2v1h-2zM1110 414h2v1h-2zM203 415h1v1h-1zM1031 415h1v1h-1zM1104 415h6v1h-6zM203 416h1v1h-1zM1032 416h2v1h-2zM1096 416h8v1h-8zM202 417h1v1h-1zM1034 417h2v1h-2zM1082 417h14v1h-14zM201 418h1v1h-1zM1036 418h2v1h-2zM1078 418h4v1h-4zM201 419h1v1h-1zM1038 419h2v1h-2zM1072 419h6v1h-6zM200 420h1v1h-1zM1040 420h3v1h-3zM1066 420h6v1h-6zM199 421h1v1h-1zM1043 421h13v1h-13zM1062 421h4v1h-4zM199 422h1v1h-1zM1056 422h6v1h-6zM198 423h1v1h-1zM197 424h1v1h-1zM197 425h1v1h-1zM196 426h1v1h-1zM195 427h1v1h-1zM195 428h1v1h-1zM194 429h1v1h-1zM193 430h1v1h-1zM193 431h1v1h-1zM192 432h1v1h-1zM191 433h1v1h-1zM191 434h1v1h-1zM190 435h1v1h-1zM189 436h1v1h-1zM189 437h1v1h-1zM188 438h1v1h-1zM187 439h1v1h-1zM186 440h1v1h-1zM185 441h1v1h-1zM184 442h1v1h-1zM183 443h1v1h-1zM182 444h1v1h-1zM181 445h1v1h-1zM180 446h1v1h-1zM178 447h2v1h-2zM176 448h2v1h-2zM175 449h1v1h-1zM173 450h2v1h-2zM171 451h2v1h-2zM169 452h2v1h-2zM167 453h2v1h-2zM165 454h2v1h-2zM162 455h3v1h-3zM158 456h4v1h-4zM155 457h3v1h-3zM152 458h3v1h-3zM150 459h2v1h-2zM146 460h4v1h-4zM142 461h4v1h-4zM136 462h6v1h-6zM128 463h8v1h-8zM120 464h8v1h-8zM115 465h5v1h-5zM112 466h3v1h-3zM110 467h2v1h-2zM107 468h3v1h-3zM105 469h2v1h-2zM103 470h2v1h-2zM101 471h2v1h-2zM99 472h2v1h-2zM96 473h3v1h-3zM94 474h2v1h-2zM91 475h3v1h-3zM88 476h3v1h-3zM86 477h2v1h-2zM83 478h3v1h-3zM80 479h3v1h-3zM78 480h2v1h-2zM72 481h6v1h-6zM48 482h24v1h-24zM34 483h14v1h-14zM30 484h4v1h-4zM24 485h6v1h-6zM19 486h5v1h-5zM17 487h2v1h-2zM15 488h2v1h-2zM13 489h2v1h-2zM11 490h2v1h-2zM9 491h2v1h-2zM7 492h2v1h-2zM5 493h2v1h-2zM4 494h1v1h-1z" fill="#0000cd"/>
<path d="M434 138h4v1h-4zM430 139h4v1h-4zM438 139h4v1h-4zM426 140h4v1h-4zM442 140h6v1h-6zM422 141h4v1h-4zM448 141h8v1h-8zM416 142h6v1h-6zM456 142h5v1h-5zM411 143h5v1h-5zM461 143h2v1h-2zM408 144h3v1h-3zM463 144h2v1h-2zM406 145h2v1h-2zM465 145h2v1h-2zM400 146h6v1h-6zM467 146h2v1h-2zM396 147h4v1h-4zM469 147h1v1h-1zM394 148h2v1h-2zM470 148h1v1h-1zM392 149h2v1h-2zM471 149h1v1h-1zM391 150h1v1h-1zM472 150h1v1h-1zM389 151h2v1h-2zM473 151h1v1h-1zM387 152h2v1h-2zM474 152h1v1h-1zM384 153h3v1h-3zM475 153h1v1h-1zM382 154h2v1h-2zM476 154h1v1h-1zM380 155h2v1h-2zM477 155h1v1h-1zM378 156h2v1h-2zM477 156h1v1h-1zM377 157h1v1h-1zM478 157h1v1h-1zM376 158h1v1h-1zM479 158h1v1h-1zM374 159h2v1h-2zM479 159h1v1h-1zM373 160h1v1h-1zM480 160h1v1h-1zM372 161h1v1h-1zM481 161h1v1h-1zM371 162h1v1h-1zM481 162h1v1h-1zM370 163h1v1h-1zM482 163h1v1h-1zM370 164h1v1h-1zM483 164h1v1h-1zM369 165h1v1h-1zM483 165h1v1h-1zM368 166h1v1h-1zM484 166h1v1h-1zM367 167h1v1h-1zM485 167h1v1h-1zM366 168h1v1h-1zM486 168h1v1h-1zM366 169h1v1h-1zM487 169h1v1h-1zM365 170h1v1h-1zM488 170h1v1h-1zM364 171h1v1h-1zM488 171h1v1h-1zM363 172h1v1h-1zM489 172h1v1h-1zM362 173h1v1h-1zM490 173h1v1h-1zM361 174h1v1h-1zM491 174h1v1h-1zM360 175h1v1h-1zM492 175h1v1h-1zM359 176h1v1h-1zM493 176h2v1h-2zM358 177h1v1h-1zM495 177h1v1h-1zM357 178h1v1h-1zM496 178h2v1h-2zM355 179h2v1h-2zM498 179h2v1h-2zM353 180h2v1h-2zM500 180h1v1h-1zM351 181h2v1h-2zM501 181h1v1h-1zM349 182h2v1h-2zM502 182h1v1h-1zM348 183h1v1h-1zM503 183h1v1h-1zM346 184h2v1h-2zM504 184h1v1h-1zM344 185h2v1h-2zM504 185h1v1h-1zM343 186h1v1h-1zM505 186h1v1h-1zM341 187h2v1h-2zM506 187h1v1h-1zM339 188h2v1h-2zM507 188h1v1h-1zM337 189h2v1h-2zM508 189h1v1h-1zM335 190h2v1h-2zM509 190h1v1h-1zM333 191h2v1h-2zM510 191h2v1h-2zM331 192h2v1h-2zM512 192h1v1h-1zM328 193h3v1h-3zM513 193h1v1h-1zM326 194h2v1h-2zM514 194h2v1h-2zM320 195h6v1h-6zM516 195h1v1h-1zM315 196h5v1h-5zM517 196h1v1h-1zM313 197h2v1h-2zM518 197h2v1h-2zM311 198h2v1h-2zM520 198h1v1h-1zM309 199h2v1h-2zM521 199h1v1h-1zM308 200h1v1h-1zM522 200h2v1h-2zM306 201h2v1h-2zM524 201h1v1h-1zM304 202h2v1h-2zM525 202h2v1h-2zM303 203h1v1h-1zM527 203h1v1h-1zM301 204h2v1h-2zM528 204h2v1h-2zM300 205h1v1h-1zM530 205h2v1h-2zM299 206h1v1h-1zM532 206h1v1h-1zM298 207h1v1h-1zM533 207h1v1h-1zM297 208h1v1h-1zM534 208h1v1h-1zM296 209h1v1h-1zM535 209h1v1h-1zM295 210h1v1h-1zM536 210h2v1h-2zM294 211h1v1h-1zM538 211h1v1h-1zM293 212h1v1h-1zM539 212h1v1h-1zM292 213h1v1h-1zM540 213h2v1h-2zM291 214h1v1h-1zM542 214h2v1h-2zM291 215h1v1h-1zM544 215h3v1h-3zM290 216h1v1h-1zM547 216h3v1h-3zM289 217h1v1h-1zM550 217h2v1h-2zM288 218h1v1h-1zM552 218h3v1h-3zM288 219h1v1h-1zM555 219h3v1h-3zM287 220h1v1h-1zM558 220h4v1h-4zM286 221h1v1h-1zM562 221h14v1h-14zM285 222h1v1h-1zM576 222h14v1h-14zM756 222h10v1h-10zM285 223h1v1h-1zM590 223h2v1h-2zM755 223h1v1h-1zM766 223h2v1h-2zM284 224h1v1h-1zM592 224h3v1h-3zM754 224h1v1h-1zM768 224h3v1h-3zM283 225h1v1h-1zM595 225h3v1h-3zM752 225h2v1h-2zM771 225h3v1h-3zM283 226h1v1h-1zM598 226h2v1h-2zM751 226h1v1h-1zM774 226h2v1h-2zM282 227h1v1h-1zM600 227h3v1h-3zM750 227h1v1h-1zM776 227h3v1h-3zM281 228h1v1h-1zM603 228h2v1h-2zM749 228h1v1h-1zM779 228h3v1h-3zM281 229h1v1h-1zM605 229h1v1h-1zM747 229h2v1h-2zM782 229h2v1h-2zM280 230h1v1h-1zM606 230h1v1h-1zM745 230h2v1h-2zM784 230h3v1h-3zM279 231h1v1h-1zM607 231h1v1h-1zM743 231h2v1h-2zM787 231h3v1h-3zM279 232h1v1h-1zM608 232h1v1h-1zM741 232h2v1h-2zM790 232h2v1h-2zM278 233h1v1h-1zM609 233h1v1h-1zM740 233h1v1h-1zM792 233h3v1h-3zM277 234h1v1h-1zM610 234h1v1h-1zM738 234h2v1h-2zM795 234h2v1h-2zM277 235h1v1h-1zM611 235h1v1h-1zM737 235h1v1h-1zM797 235h2v1h-2zM276 236h1v1h-1zM612 236h1v1h-1zM736 236h1v1h-1zM799 236h1v1h-1zM275 237h1v1h-1zM613 237h2v1h-2zM734 237h2v1h-2zM800 237h2v1h-2zM275 238h1v1h-1zM615 238h2v1h-2zM733 238h1v1h-1zM802 238h2v1h-2zM274 239h1v1h-1zM617 239h2v1h-2zM732 239h1v1h-1zM804 239h1v1h-1zM273 240h1v1h-1zM619 240h2v1h-2zM730 240h2v1h-2zM805 240h1v1h-1zM272 241h1v1h-1zM621 241h1v1h-1zM729 241h1v1h-1zM806 241h2v1h-2zM272 242h1v1h-1zM622 242h2v1h-2zM728 242h1v1h-1zM808 242h1v1h-1zM271 243h1v1h-1zM624 243h1v1h-1zM726 243h2v1h-2zM809 243h1v1h-1zM270 244h1v1h-1zM625 244h1v1h-1zM725 244h1v1h-1zM810 244h2v1h-2zM269 245h1v1h-1zM626 245h2v1h-2zM724 245h1v1h-1zM812 245h1v1h-1zM269 246h1v1h-1zM628 246h1v1h-1zM723 246h1v1h-1zM813 246h1v1h-1zM268 247h1v1h-1zM629 247h1v1h-1zM722 247h1v1h-1zM814 247h1v1h-1zM267 248h1v1h-1zM630 248h1v1h-1zM721 248h1v1h-1zM815 248h1v1h-1zM266 249h1v1h-1zM631 249h1v1h-1zM720 249h1v1h-1zM816 249h1v1h-1zM265 250h1v1h-1zM632 250h2v1h-2zM719 250h1v1h-1zM816 250h1v1h-1zM264 251h1v1h-1zM634 251h1v1h-1zM718 251h1v1h-1zM817 251h1v1h-1zM264 252h1v1h-1zM635 252h1v1h-1zM717 252h1v1h-1zM818 252h1v1h-1zM263 253h1v1h-1zM636 253h1v1h-1zM716 253h1v1h-1zM819 253h1v1h-1zM262 254h1v1h-1zM637 254h2v1h-2zM714 254h2v1h-2zM820 254h1v1h-1zM261 255h1v1h-1zM639 255h2v1h-2zM713 255h1v1h-1zM821 255h1v1h-1zM260 256h1v1h-1zM641 256h2v1h-2zM648 256h6v1h-6zM712 256h1v1h-1zM821 256h1v1h-1zM259 257h1v1h-1zM643 257h5v1h-5zM654 257h4v1h-4zM664 257h16v1h-16zM710 257h2v1h-2zM822 257h1v1h-1zM259 258h1v1h-1zM658 258h6v1h-6zM680 258h8v1h-8zM709 258h1v1h-1zM822 258h1v1h-1zM258 259h1v1h-1zM688 259h6v1h-6zM706 259h3v1h-3zM823 259h1v1h-1zM257 260h1v1h-1zM694 260h4v1h-4zM702 260h4v1h-4zM823 260h1v1h-1zM257 261h1v1h-1zM698 261h4v1h-4zM824 261h1v1h-1zM256 262h1v1h-1zM825 262h1v1h-1zM255 263h1v1h-1zM825 263h1v1h-1zM255 264h1v1h-1zM826 264h1v1h-1zM254 265h1v1h-1zM826 265h1v1h-1zM253 266h1v1h-1zM827 266h1v1h-1zM253 267h1v1h-1zM827 267h1v1h-1zM252 268h1v1h-1zM828 268h1v1h-1zM251 269h1v1h-1zM829 269h1v1h-1zM251 270h1v1h-1zM829 270h1v1h-1zM250 271h1v1h-1zM830 271h1v1h-1zM249 272h1v1h-1zM830 272h1v1h-1zM248 273h1v1h-1zM831 273h1v1h-1zM248 274h1v1h-1zM832 274h1v1h-1zM1218 274h4v1h-4zM1240 274h5v1h-5zM247 275h1v1h-1zM832 275h1v1h-1zM1214 275h4v1h-4zM1222 275h4v1h-4zM1232 275h8v1h-8zM246 276h1v1h-1zM833 276h1v1h-1zM1211 276h3v1h-3zM1226 276h6v1h-6zM245 277h1v1h-1zM834 277h1v1h-1zM1209 277h2v1h-2zM245 278h1v1h-1zM834 278h1v1h-1zM1207 278h2v1h-2zM244 279h1v1h-1zM835 279h1v1h-1zM1205 279h2v1h-2zM243 280h1v1h-1zM835 280h1v1h-1zM1203 280h2v1h-2zM243 281h1v1h-1zM836 281h1v1h-1zM1201 281h2v1h-2zM242 282h1v1h-1zM837 282h1v1h-1zM1199 282h2v1h-2zM242 283h1v1h-1zM837 283h1v1h-1zM1197 283h2v1h-2zM241 284h1v1h-1zM838 284h1v1h-1zM1195 284h2v1h-2zM241 285h1v1h-1zM838 285h1v1h-1zM1192 285h3v1h-3zM240 286h1v1h-1zM839 286h1v1h-1zM1190 286h2v1h-2zM239 287h1v1h-1zM840 287h1v1h-1zM1188 287h2v1h-2zM239 288h1v1h-1zM840 288h1v1h-1zM1187 288h1v1h-1zM238 289h1v1h-1zM841 289h1v1h-1zM1186 289h1v1h-1zM238 290h1v1h-1zM842 290h1v1h-1zM1185 290h1v1h-1zM237 291h1v1h-1zM842 291h1v1h-1zM1184 291h1v1h-1zM237 292h1v1h-1zM843 292h1v1h-1zM1184 292h1v1h-1zM236 293h1v1h-1zM843 293h1v1h-1zM1183 293h1v1h-1zM235 294h1v1h-1zM844 294h1v1h-1zM1182 294h1v1h-1zM235 295h1v1h-1zM845 295h1v1h-1zM1181 295h1v1h-1zM234 296h1v1h-1zM846 296h1v1h-1zM1180 296h1v1h-1zM234 297h1v1h-1zM846 297h1v1h-1zM1179 297h1v1h-1zM233 298h1v1h-1zM847 298h1v1h-1zM1178 298h1v1h-1zM233 299h1v1h-1zM848 299h1v1h-1zM1178 299h1v1h-1zM232 300h1v1h-1zM849 300h1v1h-1zM1177 300h1v1h-1zM231 301h1v1h-1zM850 301h1v1h-1zM1176 301h1v1h-1zM231 302h1v1h-1zM850 302h1v1h-1zM1175 302h1v1h-1zM230 303h1v1h-1zM851 303h1v1h-1zM1174 303h1v1h-1zM230 304h1v1h-1zM852 304h1v1h-1zM1174 304h1v1h-1zM229 305h1v1h-1zM853 305h1v1h-1zM1173 305h1v1h-1zM229 306h1v1h-1zM854 306h1v1h-1zM1172 306h1v1h-1zM228 307h1v1h-1zM854 307h1v1h-1zM1171 307h1v1h-1zM227 308h1v1h-1zM855 308h1v1h-1zM1170 308h1v1h-1zM227 309h1v1h-1zM856 309h1v1h-1zM1169 309h1v1h-1zM226 310h1v1h-1zM857 310h1v1h-1zM1168 310h1v1h-1zM226 311h1v1h-1zM858 311h1v1h-1zM1168 311h1v1h-1zM225 312h1v1h-1zM858 312h1v1h-1zM1167 312h1v1h-1zM225 313h1v1h-1zM859 313h1v1h-1zM1166 313h1v1h-1zM224 314h1v1h-1zM860 314h1v1h-1zM1165 314h1v1h-1zM223 315h1v1h-1zM861 315h1v1h-1zM1164 315h1v1h-1zM223 316h1v1h-1zM861 316h1v1h-1zM1163 316h1v1h-1zM222 317h1v1h-1zM862 317h1v1h-1zM1162 317h1v1h-1zM222 318h1v1h-1zM862 318h1v1h-1zM1162 318h1v1h-1zM221 319h1v1h-1zM863 319h1v1h-1zM1161 319h1v1h-1zM221 320h1v1h-1zM863 320h1v1h-1zM1160 320h1v1h-1zM220 321h1v1h-1zM864 321h1v1h-1zM1159 321h1v1h-1zM219 322h1v1h-1zM864 322h1v1h-1zM1158 322h1v1h-1zM219 323h1v1h-1zM865 323h1v1h-1zM1158 323h1v1h-1zM218 324h1v1h-1zM865 324h1v1h-1zM1157 324h1v1h-1zM218 325h1v1h-1zM866 325h1v1h-1zM1156 325h1v1h-1zM217 326h1v1h-1zM866 326h1v1h-1zM1155 326h1v1h-1zM217 327h1v1h-1zM867 327h1v1h-1zM1155 327h1v1h-1zM216 328h1v1h-1zM867 328h1v1h-1zM1154 328h1v1h-1zM215 329h1v1h-1zM868 329h1v1h-1zM1153 329h1v1h-1zM215 330h1v1h-1zM869 330h1v1h-1zM1152 330h1v1h-1zM214 331h1v1h-1zM869 331h1v1h-1zM1152 331h1v1h-1zM214 332h1v1h-1zM870 332h1v1h-1zM1151 332h1v1h-1zM213 333h1v1h-1zM871 333h1v1h-1zM1150 333h1v1h-1zM213 334h1v1h-1zM871 334h1v1h-1zM1149 334h1v1h-1zM212 335h1v1h-1zM872 335h1v1h-1zM1149 335h1v1h-1zM212 336h1v1h-1zM873 336h1v1h-1zM1148 336h1v1h-1zM211 337h1v1h-1zM873 337h1v1h-1zM1147 337h1v1h-1zM211 338h1v1h-1zM874 338h1v1h-1zM1146 338h1v1h-1zM210 339h1v1h-1zM875 339h1v1h-1zM1145 339h1v1h-1zM210 340h1v1h-1zM875 340h1v1h-1zM1144 340h1v1h-1zM209 341h1v1h-1zM876 341h1v1h-1zM1144 341h1v1h-1zM209 342h1v1h-1zM877 342h1v1h-1zM1143 342h1v1h-1zM208 343h1v1h-1zM878 343h1v1h-1zM1142 343h1v1h-1zM208 344h1v1h-1zM878 344h1v1h-1zM1141 344h1v1h-1zM207 345h1v1h-1zM879 345h1v1h-1zM1140 345h1v1h-1zM207 346h1v1h-1zM880 346h1v1h-1zM1139 346h1v1h-1zM206 347h1v1h-1zM881 347h1v1h-1zM1138 347h1v1h-1zM206 348h1v1h-1zM882 348h1v1h-1zM1137 348h1v1h-1zM205 349h1v1h-1zM882 349h1v1h-1zM1136 349h1v1h-1zM205 350h1v1h-1zM883 350h1v1h-1zM1136 350h1v1h-1zM204 351h1v1h-1zM884 351h1v1h-1zM1135 351h1v1h-1zM203 352h1v1h-1zM885 352h1v1h-1zM1134 352h1v1h-1zM203 353h1v1h-1zM886 353h1v1h-1zM1133 353h1v1h-1zM202 354h1v1h-1zM887 354h1v1h-1zM1132 354h1v1h-1zM202 355h1v1h-1zM888 355h1v1h-1zM1131 355h1v1h-1zM201 356h1v1h-1zM889 356h1v1h-1zM1131 356h1v1h-1zM201 357h1v1h-1zM890 357h1v1h-1zM1130 357h1v1h-1zM200 358h1v1h-1zM891 358h1v1h-1zM1129 358h1v1h-1zM200 359h1v1h-1zM892 359h1v1h-1zM1129 359h1v1h-1zM199 360h1v1h-1zM893 360h1v1h-1zM1128 360h1v1h-1zM199 361h1v1h-1zM894 361h1v1h-1zM1127 361h1v1h-1zM198 362h1v1h-1zM895 362h1v1h-1zM1127 362h1v1h-1zM198 363h1v1h-1zM896 363h2v1h-2zM1126 363h1v1h-1zM197 364h1v1h-1zM898 364h1v1h-1zM1125 364h1v1h-1zM197 365h1v1h-1zM899 365h1v1h-1zM1125 365h1v1h-1zM196 366h1v1h-1zM900 366h1v1h-1zM1124 366h1v1h-1zM195 367h1v1h-1zM901 367h1v1h-1zM1123 367h1v1h-1zM195 368h1v1h-1zM902 368h1v1h-1zM1123 368h1v1h-1zM194 369h1v1h-1zM903 369h1v1h-1zM1122 369h1v1h-1zM194 370h1v1h-1zM904 370h1v1h-1zM1122 370h1v1h-1zM193 371h1v1h-1zM904 371h1v1h-1zM1121 371h1v1h-1zM193 372h1v1h-1zM905 372h1v1h-1zM1121 372h1v1h-1zM192 373h1v1h-1zM906 373h1v1h-1zM1120 373h1v1h-1zM192 374h1v1h-1zM907 374h1v1h-1zM1120 374h1v1h-1zM191 375h1v1h-1zM908 375h1v1h-1zM1119 375h1v1h-1zM191 376h1v1h-1zM909 376h1v1h-1zM1119 376h1v1h-1zM190 377h1v1h-1zM910 377h1v1h-1zM1118 377h1v1h-1zM190 378h1v1h-1zM911 378h1v1h-1zM1118 378h1v1h-1zM189 379h1v1h-1zM912 379h2v1h-2zM1117 379h1v1h-1zM189 380h1v1h-1zM914 380h1v1h-1zM922 380h4v1h-4zM1117 380h1v1h-1zM188 381h1v1h-1zM915 381h1v1h-1zM918 381h4v1h-4zM926 381h2v1h-2zM1116 381h1v1h-1zM187 382h1v1h-1zM916 382h2v1h-2zM928 382h3v1h-3zM1115 382h1v1h-1zM187 383h1v1h-1zM931 383h5v1h-5zM1115 383h1v1h-1zM186 384h1v1h-1zM936 384h5v1h-5zM1114 384h1v1h-1zM186 385h1v1h-1zM941 385h1v1h-1zM1114 385h1v1h-1zM185 386h1v1h-1zM942 386h2v1h-2zM1113 386h1v1h-1zM184 387h1v1h-1zM944 387h1v1h-1zM1112 387h1v1h-1zM184 388h1v1h-1zM945 388h1v1h-1zM1112 388h1v1h-1zM183 389h1v1h-1zM946 389h2v1h-2zM1111 389h1v1h-1zM182 390h1v1h-1zM948 390h1v1h-1zM1110 390h1v1h-1zM182 391h1v1h-1zM949 391h2v1h-2zM1110 391h1v1h-1zM181 392h1v1h-1zM951 392h1v1h-1zM1109 392h1v1h-1zM181 393h1v1h-1zM952 393h2v1h-2zM1109 393h1v1h-1zM180 394h1v1h-1zM954 394h2v1h-2zM1108 394h1v1h-1zM179 395h1v1h-1zM956 395h1v1h-1zM1107 395h1v1h-1zM179 396h1v1h-1zM957 396h1v1h-1zM1107 396h1v1h-1zM178 397h1v1h-1zM958 397h1v1h-1zM1106 397h1v1h-1zM177 398h1v1h-1zM959 398h1v1h-1zM1105 398h1v1h-1zM176 399h1v1h-1zM960 399h1v1h-1zM1104 399h1v1h-1zM176 400h1v1h-1zM960 400h1v1h-1zM1104 400h1v1h-1zM175 401h1v1h-1zM961 401h1v1h-1zM1103 401h1v1h-1zM174 402h1v1h-1zM962 402h1v1h-1zM1102 402h1v1h-1zM173 403h1v1h-1zM963 403h1v1h-1zM1101 403h1v1h-1zM173 404h1v1h-1zM964 404h1v1h-1zM1101 404h1v1h-1zM172 405h1v1h-1zM965 405h1v1h-1zM1100 405h1v1h-1zM171 406h1v1h-1zM966 406h1v1h-1zM1099 406h1v1h-1zM170 407h1v1h-1zM967 407h1v1h-1zM1099 407h1v1h-1zM168 408h2v1h-2zM968 408h1v1h-1zM1098 408h1v1h-1zM167 409h1v1h-1zM968 409h1v1h-1zM1098 409h1v1h-1zM166 410h1v1h-1zM969 410h1v1h-1zM1097 410h1v1h-1zM165 411h1v1h-1zM970 411h1v1h-1zM1096 411h1v1h-1zM164 412h1v1h-1zM971 412h1v1h-1zM1096 412h1v1h-1zM163 413h1v1h-1zM972 413h1v1h-1zM1095 413h1v1h-1zM162 414h1v1h-1zM973 414h1v1h-1zM1094 414h1v1h-1zM161 415h1v1h-1zM973 415h1v1h-1zM1094 415h1v1h-1zM160 416h1v1h-1zM974 416h1v1h-1zM1093 416h1v1h-1zM159 417h1v1h-1zM975 417h1v1h-1zM1093 417h1v1h-1zM158 418h1v1h-1zM975 418h1v1h-1zM1092 418h1v1h-1zM157 419h1v1h-1zM976 419h1v1h-1zM1091 419h1v1h-1zM156 420h1v1h-1zM977 420h1v1h-1zM1091 420h1v1h-1zM155 421h1v1h-1zM977 421h1v1h-1zM1090 421h1v1h-1zM154 422h1v1h-1zM978 422h1v1h-1zM1089 422h1v1h-1zM154 423h1v1h-1zM979 423h1v1h-1zM1089 423h1v1h-1zM153 424h1v1h-1zM979 424h1v1h-1zM1088 424h1v1h-1zM152 425h1v1h-1zM980 425h1v1h-1zM1087 425h1v1h-1zM151 426h1v1h-1zM981 426h1v1h-1zM1087 426h1v1h-1zM150 427h1v1h-1zM982 427h1v1h-1zM1086 427h1v1h-1zM150 428h1v1h-1zM983 428h1v1h-1zM1085 428h1v1h-1zM149 429h1v1h-1zM984 429h1v1h-1zM1085 429h1v1h-1zM147 430h2v1h-2zM984 430h1v1h-1zM1084 430h1v1h-1zM145 431h2v1h-2zM985 431h1v1h-1zM1083 431h1v1h-1zM143 432h2v1h-2zM986 432h1v1h-1zM1083 432h1v1h-1zM141 433h2v1h-2zM987 433h1v1h-1zM1082 433h1v1h-1zM139 434h2v1h-2zM988 434h1v1h-1zM1081 434h1v1h-1zM114 435h4v1h-4zM137 435h2v1h-2zM989 435h1v1h-1zM1080 435h1v1h-1zM110 436h4v1h-4zM118 436h2v1h-2zM135 436h2v1h-2zM990 436h2v1h-2zM1080 436h1v1h-1zM108 437h2v1h-2zM120 437h3v1h-3zM133 437h2v1h-2zM992 437h1v1h-1zM1079 437h1v1h-1zM107 438h1v1h-1zM123 438h10v1h-10zM993 438h1v1h-1zM1078 438h1v1h-1zM106 439h1v1h-1zM994 439h2v1h-2zM1077 439h1v1h-1zM104 440h2v1h-2zM996 440h1v1h-1zM1077 440h1v1h-1zM103 441h1v1h-1zM997 441h1v1h-1zM1076 441h1v1h-1zM102 442h1v1h-1zM998 442h1v1h-1zM1075 442h1v1h-1zM101 443h1v1h-1zM999 443h1v1h-1zM1074 443h1v1h-1zM100 444h1v1h-1zM1000 444h2v1h-2zM1073 444h1v1h-1zM99 445h1v1h-1zM1002 445h1v1h-1zM1072 445h1v1h-1zM98 446h1v1h-1zM1003 446h1v1h-1zM1071 446h1v1h-1zM96 447h2v1h-2zM1004 447h1v1h-1zM1070 447h1v1h-1zM95 448h1v1h-1zM1005 448h1v1h-1zM1069 448h1v1h-1zM94 449h1v1h-1zM1006 449h1v1h-1zM1068 449h1v1h-1zM93 450h1v1h-1zM1007 450h1v1h-1zM1066 450h2v1h-2zM92 451h1v1h-1zM1008 451h1v1h-1zM1065 451h1v1h-1zM91 452h1v1h-1zM1008 452h1v1h-1zM1064 452h1v1h-1zM91 453h1v1h-1zM1009 453h1v1h-1zM1062 453h2v1h-2zM90 454h1v1h-1zM1010 454h1v1h-1zM1061 454h1v1h-1zM90 455h1v1h-1zM1011 455h1v1h-1zM1060 455h1v1h-1zM89 456h1v1h-1zM1012 456h1v1h-1zM1058 456h2v1h-2zM88 457h1v1h-1zM1013 457h2v1h-2zM1057 457h1v1h-1zM88 458h1v1h-1zM1015 458h1v1h-1zM1056 458h1v1h-1zM87 459h1v1h-1zM1016 459h2v1h-2zM1054 459h2v1h-2zM86 460h1v1h-1zM1018 460h2v1h-2zM1053 460h1v1h-1zM86 461h1v1h-1zM1020 461h2v1h-2zM1051 461h2v1h-2zM85 462h1v1h-1zM1022 462h2v1h-2zM1049 462h2v1h-2zM85 463h1v1h-1zM1024 463h3v1h-3zM1047 463h2v1h-2zM84 464h1v1h-1zM1027 464h3v1h-3zM1045 464h2v1h-2zM83 465h1v1h-1zM1030 465h2v1h-2zM1042 465h3v1h-3zM83 466h1v1h-1zM1032 466h3v1h-3zM1038 466h4v1h-4zM82 467h1v1h-1zM1035 467h3v1h-3zM82 468h1v1h-1zM81 469h1v1h-1zM80 470h1v1h-1zM80 471h1v1h-1zM79 472h1v1h-1zM78 473h1v1h-1zM78 474h1v1h-1zM77 475h1v1h-1zM77 476h1v1h-1zM76 477h1v1h-1zM75 478h1v1h-1zM74 479h1v1h-1zM73 480h1v1h-1zM72 481h1v1h-1zM72 482h1v1h-1zM71 483h1v1h-1zM70 484h1v1h-1zM69 485h1v1h-1zM68 486h1v1h-1zM67 487h1v1h-1zM66 488h1v1h-1zM65 489h1v1h-1zM64 490h1v1h-1zM19 491h5v1h-5zM63 491h1v1h-1zM16 492h3v1h-3zM24 492h6v1h-6zM62 492h1v1h-1zM14 493h2v1h-2zM30 493h2v1h-2zM61 493h1v1h-1zM8 494h6v1h-6zM32 494h3v1h-3zM59 494h2v1h-2zM4 495h4v1h-4zM35 495h3v1h-3zM57 495h2v1h-2zM38 496h2v1h-2zM55 496h2v1h-2zM40 497h3v1h-3zM53 497h2v1h-2zM43 498h10v1h-10z" fill="#ff0000"/>
<path d="M428 114h1v1h-1zM426 115h2v1h-2zM429 115h1v1h-1zM425 116h1v1h-1zM430 116h1v1h-1zM424 117h1v1h-1zM431 117h1v1h-1zM422 118h2v1h-2zM432 118h1v1h-1zM421 119h1v1h-1zM433 119h1v1h-1zM404 120h2v1h-2zM419 120h2v1h-2zM434 120h1v1h-1zM402 121h2v1h-2zM406 121h2v1h-2zM416 121h3v1h-3zM435 121h1v1h-1zM400 122h2v1h-2zM408 122h3v1h-3zM414 122h2v1h-2zM436 122h1v1h-1zM399 123h1v1h-1zM411 123h3v1h-3zM436 123h1v1h-1zM397 124h2v1h-2zM437 124h1v1h-1zM396 125h1v1h-1zM437 125h1v1h-1zM395 126h1v1h-1zM438 126h1v1h-1zM394 127h1v1h-1zM438 127h1v1h-1zM393 128h1v1h-1zM439 128h1v1h-1zM392 129h1v1h-1zM439 129h1v1h-1zM392 130h1v1h-1zM439 130h1v1h-1zM391 131h1v1h-1zM440 131h1v1h-1zM390 132h1v1h-1zM440 132h1v1h-1zM389 133h1v1h-1zM441 133h1v1h-1zM388 134h1v1h-1zM441 134h1v1h-1zM386 135h2v1h-2zM441 135h1v1h-1zM384 136h2v1h-2zM442 136h1v1h-1zM383 137h1v1h-1zM442 137h1v1h-1zM381 138h2v1h-2zM443 138h1v1h-1zM380 139h1v1h-1zM443 139h1v1h-1zM379 140h1v1h-1zM444 140h1v1h-1zM378 141h1v1h-1zM444 141h1v1h-1zM377 142h1v1h-1zM444 142h1v1h-1zM376 143h1v1h-1zM445 143h1v1h-1zM375 144h1v1h-1zM445 144h1v1h-1zM374 145h1v1h-1zM446 145h1v1h-1zM373 146h1v1h-1zM446 146h1v1h-1zM316 147h2v1h-2zM372 147h1v1h-1zM447 147h1v1h-1zM315 148h1v1h-1zM318 148h4v1h-4zM372 148h1v1h-1zM447 148h1v1h-1zM314 149h1v1h-1zM322 149h3v1h-3zM371 149h1v1h-1zM447 149h1v1h-1zM313 150h1v1h-1zM325 150h1v1h-1zM371 150h1v1h-1zM448 150h1v1h-1zM312 151h1v1h-1zM326 151h1v1h-1zM370 151h1v1h-1zM448 151h1v1h-1zM312 152h1v1h-1zM327 152h1v1h-1zM370 152h1v1h-1zM449 152h1v1h-1zM311 153h1v1h-1zM328 153h1v1h-1zM369 153h1v1h-1zM449 153h1v1h-1zM310 154h1v1h-1zM328 154h1v1h-1zM369 154h1v1h-1zM449 154h1v1h-1zM309 155h1v1h-1zM329 155h1v1h-1zM368 155h1v1h-1zM450 155h1v1h-1zM308 156h1v1h-1zM330 156h1v1h-1zM368 156h1v1h-1zM450 156h1v1h-1zM308 157h1v1h-1zM331 157h1v1h-1zM368 157h1v1h-1zM451 157h1v1h-1zM307 158h1v1h-1zM332 158h1v1h-1zM367 158h1v1h-1zM451 158h1v1h-1zM307 159h1v1h-1zM333 159h1v1h-1zM367 159h1v1h-1zM452 159h1v1h-1zM306 160h1v1h-1zM334 160h1v1h-1zM366 160h1v1h-1zM452 160h1v1h-1zM306 161h1v1h-1zM335 161h1v1h-1zM366 161h1v1h-1zM453 161h1v1h-1zM305 162h1v1h-1zM336 162h1v1h-1zM365 162h1v1h-1zM453 162h1v1h-1zM305 163h1v1h-1zM336 163h1v1h-1zM365 163h1v1h-1zM454 163h1v1h-1zM304 164h1v1h-1zM337 164h1v1h-1zM364 164h1v1h-1zM454 164h1v1h-1zM304 165h1v1h-1zM338 165h1v1h-1zM364 165h1v1h-1zM455 165h1v1h-1zM304 166h1v1h-1zM339 166h1v1h-1zM363 166h1v1h-1zM455 166h1v1h-1zM303 167h1v1h-1zM340 167h1v1h-1zM362 167h1v1h-1zM456 167h1v1h-1zM303 168h1v1h-1zM341 168h1v1h-1zM362 168h1v1h-1zM456 168h1v1h-1zM302 169h1v1h-1zM342 169h1v1h-1zM361 169h1v1h-1zM457 169h1v1h-1zM302 170h1v1h-1zM343 170h1v1h-1zM360 170h1v1h-1zM457 170h1v1h-1zM301 171h1v1h-1zM344 171h1v1h-1zM359 171h1v1h-1zM458 171h1v1h-1zM301 172h1v1h-1zM344 172h1v1h-1zM358 172h1v1h-1zM458 172h1v1h-1zM300 173h1v1h-1zM345 173h1v1h-1zM358 173h1v1h-1zM459 173h1v1h-1zM300 174h1v1h-1zM346 174h1v1h-1zM357 174h1v1h-1zM459 174h1v1h-1zM300 175h1v1h-1zM347 175h1v1h-1zM352 175h5v1h-5zM460 175h1v1h-1zM299 176h1v1h-1zM348 176h4v1h-4zM460 176h1v1h-1zM299 177h1v1h-1zM461 177h1v1h-1zM298 178h1v1h-1zM461 178h1v1h-1zM298 179h1v1h-1zM462 179h1v1h-1zM297 180h1v1h-1zM462 180h1v1h-1zM297 181h1v1h-1zM463 181h1v1h-1zM296 182h1v1h-1zM463 182h1v1h-1zM296 183h1v1h-1zM464 183h1v1h-1zM296 184h1v1h-1zM464 184h1v1h-1zM295 185h1v1h-1zM464 185h1v1h-1zM295 186h1v1h-1zM465 186h1v1h-1zM294 187h1v1h-1zM465 187h1v1h-1zM294 188h1v1h-1zM466 188h1v1h-1zM293 189h1v1h-1zM466 189h1v1h-1zM293 190h1v1h-1zM467 190h1v1h-1zM292 191h1v1h-1zM467 191h1v1h-1zM292 192h1v1h-1zM468 192h1v1h-1zM292 193h1v1h-1zM468 193h1v1h-1zM291 194h1v1h-1zM468 194h1v1h-1zM291 195h1v1h-1zM469 195h1v1h-1zM290 196h1v1h-1zM469 196h1v1h-1zM290 197h1v1h-1zM470 197h1v1h-1zM290 198h1v1h-1zM470 198h1v1h-1zM548 198h1v1h-1zM763 198h2v1h-2zM289 199h1v1h-1zM471 199h1v1h-1zM547 199h1v1h-1zM549 199h1v1h-1zM760 199h3v1h-3zM765 199h1v1h-1zM289 200h1v1h-1zM471 200h1v1h-1zM546 200h1v1h-1zM550 200h1v1h-1zM758 200h2v1h-2zM766 200h1v1h-1zM288 201h1v1h-1zM472 201h1v1h-1zM545 201h1v1h-1zM551 201h1v1h-1zM756 201h2v1h-2zM767 201h1v1h-1zM288 202h1v1h-1zM472 202h1v1h-1zM544 202h1v1h-1zM552 202h1v1h-1zM755 202h1v1h-1zM768 202h1v1h-1zM288 203h1v1h-1zM472 203h1v1h-1zM544 203h1v1h-1zM552 203h1v1h-1zM755 203h1v1h-1zM768 203h1v1h-1zM287 204h1v1h-1zM473 204h1v1h-1zM543 204h1v1h-1zM553 204h1v1h-1zM754 204h1v1h-1zM769 204h1v1h-1zM287 205h1v1h-1zM473 205h1v1h-1zM542 205h1v1h-1zM554 205h1v1h-1zM754 205h1v1h-1zM770 205h1v1h-1zM286 206h1v1h-1zM474 206h1v1h-1zM541 206h1v1h-1zM555 206h1v1h-1zM753 206h1v1h-1zM771 206h1v1h-1zM286 207h1v1h-1zM474 207h1v1h-1zM532 207h9v1h-9zM556 207h1v1h-1zM753 207h1v1h-1zM772 207h1v1h-1zM286 208h1v1h-1zM475 208h1v1h-1zM531 208h1v1h-1zM557 208h1v1h-1zM752 208h1v1h-1zM772 208h1v1h-1zM285 209h1v1h-1zM475 209h1v1h-1zM531 209h1v1h-1zM558 209h1v1h-1zM752 209h1v1h-1zM773 209h1v1h-1zM285 210h1v1h-1zM476 210h1v1h-1zM530 210h1v1h-1zM559 210h1v1h-1zM751 210h1v1h-1zM773 210h1v1h-1zM284 211h1v1h-1zM476 211h1v1h-1zM530 211h1v1h-1zM560 211h2v1h-2zM751 211h1v1h-1zM774 211h1v1h-1zM228 212h1v1h-1zM284 212h1v1h-1zM477 212h1v1h-1zM529 212h1v1h-1zM562 212h1v1h-1zM750 212h1v1h-1zM774 212h1v1h-1zM226 213h2v1h-2zM229 213h1v1h-1zM283 213h1v1h-1zM477 213h1v1h-1zM529 213h1v1h-1zM563 213h1v1h-1zM750 213h1v1h-1zM775 213h1v1h-1zM225 214h1v1h-1zM229 214h1v1h-1zM282 214h1v1h-1zM478 214h1v1h-1zM528 214h1v1h-1zM564 214h2v1h-2zM749 214h1v1h-1zM775 214h1v1h-1zM224 215h1v1h-1zM230 215h1v1h-1zM281 215h1v1h-1zM479 215h1v1h-1zM527 215h1v1h-1zM566 215h2v1h-2zM749 215h1v1h-1zM776 215h1v1h-1zM222 216h2v1h-2zM231 216h1v1h-1zM280 216h1v1h-1zM480 216h1v1h-1zM527 216h1v1h-1zM568 216h3v1h-3zM576 216h5v1h-5zM748 216h1v1h-1zM776 216h1v1h-1zM221 217h1v1h-1zM231 217h1v1h-1zM280 217h1v1h-1zM480 217h1v1h-1zM526 217h1v1h-1zM571 217h5v1h-5zM581 217h1v1h-1zM747 217h1v1h-1zM777 217h1v1h-1zM220 218h1v1h-1zM232 218h1v1h-1zM279 218h1v1h-1zM481 218h1v1h-1zM526 218h1v1h-1zM581 218h1v1h-1zM746 218h1v1h-1zM777 218h1v1h-1zM219 219h1v1h-1zM233 219h1v1h-1zM278 219h1v1h-1zM482 219h1v1h-1zM525 219h1v1h-1zM582 219h1v1h-1zM744 219h2v1h-2zM778 219h1v1h-1zM219 220h1v1h-1zM233 220h1v1h-1zM277 220h1v1h-1zM483 220h1v1h-1zM525 220h1v1h-1zM582 220h1v1h-1zM743 220h1v1h-1zM778 220h1v1h-1zM218 221h1v1h-1zM234 221h1v1h-1zM276 221h1v1h-1zM483 221h1v1h-1zM524 221h1v1h-1zM583 221h1v1h-1zM684 221h2v1h-2zM742 221h1v1h-1zM779 221h1v1h-1zM218 222h1v1h-1zM235 222h1v1h-1zM275 222h1v1h-1zM484 222h1v1h-1zM523 222h1v1h-1zM584 222h1v1h-1zM682 222h2v1h-2zM686 222h4v1h-4zM741 222h1v1h-1zM779 222h1v1h-1zM217 223h1v1h-1zM235 223h1v1h-1zM274 223h1v1h-1zM485 223h1v1h-1zM523 223h1v1h-1zM584 223h1v1h-1zM680 223h2v1h-2zM690 223h3v1h-3zM740 223h1v1h-1zM780 223h1v1h-1zM217 224h1v1h-1zM236 224h4v1h-4zM274 224h1v1h-1zM485 224h1v1h-1zM522 224h1v1h-1zM585 224h1v1h-1zM679 224h1v1h-1zM693 224h1v1h-1zM740 224h1v1h-1zM780 224h1v1h-1zM216 225h1v1h-1zM240 225h5v1h-5zM273 225h1v1h-1zM486 225h1v1h-1zM522 225h1v1h-1zM586 225h1v1h-1zM677 225h2v1h-2zM693 225h1v1h-1zM739 225h1v1h-1zM781 225h1v1h-1zM216 226h1v1h-1zM245 226h2v1h-2zM272 226h1v1h-1zM486 226h1v1h-1zM521 226h1v1h-1zM586 226h1v1h-1zM676 226h1v1h-1zM694 226h1v1h-1zM739 226h1v1h-1zM782 226h1v1h-1zM215 227h1v1h-1zM247 227h1v1h-1zM271 227h1v1h-1zM487 227h1v1h-1zM521 227h1v1h-1zM587 227h1v1h-1zM675 227h1v1h-1zM694 227h1v1h-1zM738 227h1v1h-1zM783 227h1v1h-1zM215 228h1v1h-1zM248 228h2v1h-2zM270 228h1v1h-1zM488 228h1v1h-1zM520 228h1v1h-1zM587 228h1v1h-1zM675 228h1v1h-1zM695 228h1v1h-1zM738 228h1v1h-1zM784 228h1v1h-1zM214 229h1v1h-1zM250 229h2v1h-2zM270 229h1v1h-1zM488 229h1v1h-1zM519 229h1v1h-1zM588 229h1v1h-1zM674 229h1v1h-1zM695 229h1v1h-1zM737 229h1v1h-1zM785 229h1v1h-1zM214 230h1v1h-1zM252 230h2v1h-2zM269 230h1v1h-1zM489 230h1v1h-1zM519 230h1v1h-1zM589 230h1v1h-1zM673 230h1v1h-1zM696 230h1v1h-1zM737 230h1v1h-1zM786 230h1v1h-1zM213 231h1v1h-1zM254 231h2v1h-2zM266 231h3v1h-3zM490 231h1v1h-1zM518 231h1v1h-1zM590 231h1v1h-1zM672 231h1v1h-1zM696 231h1v1h-1zM737 231h1v1h-1zM787 231h1v1h-1zM213 232h1v1h-1zM256 232h3v1h-3zM262 232h4v1h-4zM490 232h1v1h-1zM518 232h1v1h-1zM591 232h1v1h-1zM672 232h1v1h-1zM697 232h1v1h-1zM736 232h1v1h-1zM788 232h1v1h-1zM212 233h1v1h-1zM259 233h3v1h-3zM491 233h1v1h-1zM517 233h1v1h-1zM592 233h1v1h-1zM671 233h1v1h-1zM697 233h1v1h-1zM736 233h1v1h-1zM788 233h1v1h-1zM212 234h1v1h-1zM491 234h1v1h-1zM517 234h1v1h-1zM592 234h1v1h-1zM670 234h1v1h-1zM698 234h1v1h-1zM735 234h1v1h-1zM789 234h1v1h-1zM211 235h1v1h-1zM492 235h1v1h-1zM516 235h1v1h-1zM593 235h1v1h-1zM669 235h1v1h-1zM698 235h1v1h-1zM735 235h1v1h-1zM789 235h1v1h-1zM211 236h1v1h-1zM493 236h2v1h-2zM515 236h1v1h-1zM594 236h1v1h-1zM669 236h1v1h-1zM699 236h1v1h-1zM735 236h1v1h-1zM789 236h1v1h-1zM211 237h1v1h-1zM495 237h1v1h-1zM514 237h1v1h-1zM595 237h1v1h-1zM668 237h1v1h-1zM699 237h1v1h-1zM734 237h1v1h-1zM790 237h1v1h-1zM210 238h1v1h-1zM496 238h2v1h-2zM513 238h1v1h-1zM596 238h1v1h-1zM667 238h1v1h-1zM700 238h1v1h-1zM734 238h1v1h-1zM790 238h1v1h-1zM210 239h1v1h-1zM498 239h2v1h-2zM512 239h1v1h-1zM596 239h1v1h-1zM667 239h1v1h-1zM701 239h1v1h-1zM733 239h1v1h-1zM790 239h1v1h-1zM210 240h1v1h-1zM500 240h1v1h-1zM512 240h1v1h-1zM597 240h1v1h-1zM666 240h1v1h-1zM702 240h1v1h-1zM733 240h1v1h-1zM791 240h1v1h-1zM210 241h1v1h-1zM501 241h2v1h-2zM511 241h1v1h-1zM597 241h1v1h-1zM665 241h1v1h-1zM703 241h1v1h-1zM732 241h1v1h-1zM791 241h1v1h-1zM209 242h1v1h-1zM503 242h2v1h-2zM510 242h1v1h-1zM598 242h1v1h-1zM664 242h1v1h-1zM704 242h2v1h-2zM731 242h2v1h-2zM791 242h1v1h-1zM209 243h1v1h-1zM505 243h2v1h-2zM509 243h1v1h-1zM598 243h1v1h-1zM664 243h1v1h-1zM706 243h1v1h-1zM714 243h4v1h-4zM728 243h3v1h-3zM792 243h1v1h-1zM209 244h1v1h-1zM507 244h2v1h-2zM599 244h1v1h-1zM663 244h1v1h-1zM707 244h1v1h-1zM710 244h4v1h-4zM718 244h4v1h-4zM726 244h2v1h-2zM792 244h1v1h-1zM208 245h1v1h-1zM599 245h1v1h-1zM662 245h1v1h-1zM708 245h2v1h-2zM722 245h4v1h-4zM793 245h1v1h-1zM208 246h1v1h-1zM600 246h1v1h-1zM661 246h1v1h-1zM793 246h1v1h-1zM1188 246h1v1h-1zM208 247h1v1h-1zM600 247h1v1h-1zM661 247h1v1h-1zM793 247h1v1h-1zM1186 247h2v1h-2zM1189 247h1v1h-1zM207 248h1v1h-1zM601 248h1v1h-1zM660 248h1v1h-1zM794 248h1v1h-1zM1185 248h1v1h-1zM1190 248h1v1h-1zM207 249h1v1h-1zM601 249h1v1h-1zM660 249h1v1h-1zM794 249h1v1h-1zM1184 249h1v1h-1zM1191 249h1v1h-1zM207 250h1v1h-1zM602 250h1v1h-1zM659 250h1v1h-1zM794 250h1v1h-1zM1182 250h2v1h-2zM1192 250h1v1h-1zM206 251h1v1h-1zM602 251h1v1h-1zM659 251h1v1h-1zM795 251h1v1h-1zM1181 251h1v1h-1zM1192 251h1v1h-1zM206 252h1v1h-1zM603 252h1v1h-1zM658 252h1v1h-1zM795 252h1v1h-1zM1180 252h1v1h-1zM1193 252h1v1h-1zM206 253h1v1h-1zM603 253h1v1h-1zM658 253h1v1h-1zM795 253h1v1h-1zM1179 253h1v1h-1zM1194 253h1v1h-1zM206 254h1v1h-1zM604 254h1v1h-1zM657 254h1v1h-1zM796 254h1v1h-1zM1179 254h1v1h-1zM1195 254h1v1h-1zM205 255h1v1h-1zM604 255h1v1h-1zM657 255h1v1h-1zM796 255h1v1h-1zM1178 255h1v1h-1zM1196 255h1v1h-1zM205 256h1v1h-1zM604 256h1v1h-1zM656 256h1v1h-1zM797 256h1v1h-1zM1178 256h1v1h-1zM1197 256h1v1h-1zM205 257h1v1h-1zM605 257h1v1h-1zM656 257h1v1h-1zM797 257h1v1h-1zM1177 257h1v1h-1zM1198 257h1v1h-1zM204 258h1v1h-1zM605 258h1v1h-1zM655 258h1v1h-1zM798 258h1v1h-1zM1176 258h1v1h-1zM1198 258h1v1h-1zM204 259h1v1h-1zM605 259h1v1h-1zM655 259h1v1h-1zM798 259h1v1h-1zM1176 259h1v1h-1zM1199 259h1v1h-1zM204 260h1v1h-1zM606 260h1v1h-1zM654 260h1v1h-1zM799 260h1v1h-1zM1175 260h1v1h-1zM1200 260h1v1h-1zM203 261h1v1h-1zM606 261h1v1h-1zM654 261h1v1h-1zM799 261h1v1h-1zM1174 261h1v1h-1zM1201 261h1v1h-1zM203 262h1v1h-1zM606 262h1v1h-1zM653 262h1v1h-1zM800 262h1v1h-1zM1174 262h1v1h-1zM1202 262h1v1h-1zM203 263h1v1h-1zM606 263h1v1h-1zM653 263h1v1h-1zM800 263h1v1h-1zM1173 263h1v1h-1zM1202 263h1v1h-1zM203 264h1v1h-1zM607 264h1v1h-1zM652 264h1v1h-1zM801 264h1v1h-1zM1173 264h1v1h-1zM1203 264h1v1h-1zM202 265h1v1h-1zM607 265h1v1h-1zM652 265h1v1h-1zM801 265h1v1h-1zM1172 265h1v1h-1zM1204 265h2v1h-2zM202 266h1v1h-1zM607 266h1v1h-1zM651 266h1v1h-1zM802 266h1v1h-1zM1171 266h1v1h-1zM1206 266h2v1h-2zM202 267h1v1h-1zM608 267h1v1h-1zM651 267h1v1h-1zM802 267h1v1h-1zM1170 267h1v1h-1zM1208 267h3v1h-3zM201 268h1v1h-1zM608 268h1v1h-1zM651 268h1v1h-1zM803 268h1v1h-1zM1168 268h2v1h-2zM1211 268h2v1h-2zM201 269h1v1h-1zM608 269h1v1h-1zM650 269h1v1h-1zM803 269h1v1h-1zM1167 269h1v1h-1zM1213 269h1v1h-1zM201 270h1v1h-1zM609 270h1v1h-1zM650 270h1v1h-1zM804 270h1v1h-1zM1166 270h1v1h-1zM1213 270h1v1h-1zM200 271h1v1h-1zM609 271h1v1h-1zM650 271h1v1h-1zM804 271h1v1h-1zM1165 271h1v1h-1zM1214 271h1v1h-1zM200 272h1v1h-1zM609 272h1v1h-1zM649 272h1v1h-1zM805 272h1v1h-1zM1164 272h1v1h-1zM1215 272h1v1h-1zM200 273h1v1h-1zM610 273h1v1h-1zM649 273h1v1h-1zM805 273h1v1h-1zM1162 273h2v1h-2zM1215 273h1v1h-1zM200 274h1v1h-1zM610 274h1v1h-1zM649 274h1v1h-1zM805 274h1v1h-1zM1161 274h1v1h-1zM1216 274h1v1h-1zM199 275h1v1h-1zM610 275h1v1h-1zM648 275h1v1h-1zM806 275h1v1h-1zM1160 275h1v1h-1zM1217 275h1v1h-1zM199 276h1v1h-1zM610 276h1v1h-1zM648 276h1v1h-1zM806 276h1v1h-1zM1158 276h2v1h-2zM1217 276h1v1h-1zM199 277h1v1h-1zM611 277h1v1h-1zM647 277h1v1h-1zM806 277h1v1h-1zM1157 277h1v1h-1zM1218 277h1v1h-1zM198 278h1v1h-1zM611 278h1v1h-1zM647 278h1v1h-1zM807 278h1v1h-1zM1156 278h1v1h-1zM1219 278h1v1h-1zM198 279h1v1h-1zM611 279h1v1h-1zM647 279h1v1h-1zM807 279h1v1h-1zM1155 279h1v1h-1zM1219 279h1v1h-1zM198 280h1v1h-1zM612 280h1v1h-1zM646 280h1v1h-1zM807 280h1v1h-1zM1154 280h1v1h-1zM1220 280h1v1h-1zM197 281h1v1h-1zM612 281h1v1h-1zM646 281h1v1h-1zM808 281h1v1h-1zM1154 281h1v1h-1zM1220 281h1v1h-1zM197 282h1v1h-1zM613 282h1v1h-1zM646 282h1v1h-1zM808 282h1v1h-1zM1153 282h1v1h-1zM1221 282h1v1h-1zM197 283h1v1h-1zM613 283h1v1h-1zM645 283h1v1h-1zM808 283h1v1h-1zM1152 283h1v1h-1zM1221 283h1v1h-1zM197 284h1v1h-1zM614 284h1v1h-1zM645 284h1v1h-1zM808 284h1v1h-1zM1151 284h1v1h-1zM1222 284h1v1h-1zM196 285h1v1h-1zM614 285h1v1h-1zM645 285h1v1h-1zM809 285h1v1h-1zM1150 285h1v1h-1zM1222 285h1v1h-1zM196 286h1v1h-1zM615 286h1v1h-1zM644 286h1v1h-1zM809 286h1v1h-1zM1150 286h1v1h-1zM1223 286h1v1h-1zM196 287h1v1h-1zM615 287h1v1h-1zM644 287h1v1h-1zM809 287h1v1h-1zM1149 287h1v1h-1zM1223 287h1v1h-1zM1244 287h1v1h-1zM196 288h1v1h-1zM616 288h1v1h-1zM643 288h1v1h-1zM810 288h1v1h-1zM1148 288h1v1h-1zM1224 288h1v1h-1zM1243 288h1v1h-1zM195 289h1v1h-1zM616 289h1v1h-1zM643 289h1v1h-1zM810 289h1v1h-1zM1147 289h1v1h-1zM1224 289h1v1h-1zM1242 289h1v1h-1zM195 290h1v1h-1zM617 290h1v1h-1zM642 290h1v1h-1zM810 290h1v1h-1zM1147 290h1v1h-1zM1225 290h1v1h-1zM1240 290h2v1h-2zM195 291h1v1h-1zM617 291h1v1h-1zM642 291h1v1h-1zM811 291h1v1h-1zM1146 291h1v1h-1zM1225 291h1v1h-1zM1239 291h1v1h-1zM195 292h1v1h-1zM618 292h1v1h-1zM641 292h1v1h-1zM811 292h1v1h-1zM1146 292h1v1h-1zM1226 292h1v1h-1zM1238 292h1v1h-1zM194 293h1v1h-1zM618 293h1v1h-1zM640 293h1v1h-1zM811 293h1v1h-1zM1145 293h1v1h-1zM1226 293h1v1h-1zM1237 293h1v1h-1zM194 294h1v1h-1zM619 294h1v1h-1zM640 294h1v1h-1zM812 294h1v1h-1zM1145 294h1v1h-1zM1227 294h1v1h-1zM1235 294h2v1h-2zM194 295h1v1h-1zM619 295h1v1h-1zM639 295h1v1h-1zM812 295h1v1h-1zM1144 295h1v1h-1zM1227 295h1v1h-1zM1232 295h3v1h-3zM194 296h1v1h-1zM620 296h1v1h-1zM638 296h1v1h-1zM812 296h1v1h-1zM1143 296h1v1h-1zM1228 296h1v1h-1zM1230 296h2v1h-2zM193 297h1v1h-1zM620 297h1v1h-1zM638 297h1v1h-1zM813 297h1v1h-1zM1143 297h1v1h-1zM1228 297h2v1h-2zM193 298h1v1h-1zM621 298h1v1h-1zM637 298h1v1h-1zM813 298h1v1h-1zM1142 298h1v1h-1zM193 299h1v1h-1zM622 299h2v1h-2zM637 299h1v1h-1zM814 299h1v1h-1zM1142 299h1v1h-1zM193 300h1v1h-1zM624 300h1v1h-1zM635 300h2v1h-2zM814 300h1v1h-1zM1141 300h1v1h-1zM192 301h1v1h-1zM625 301h1v1h-1zM632 301h3v1h-3zM814 301h1v1h-1zM1141 301h1v1h-1zM192 302h1v1h-1zM626 302h2v1h-2zM630 302h2v1h-2zM815 302h1v1h-1zM1140 302h1v1h-1zM192 303h1v1h-1zM628 303h2v1h-2zM815 303h1v1h-1zM1138 303h2v1h-2zM192 304h1v1h-1zM815 304h1v1h-1zM1136 304h2v1h-2zM191 305h1v1h-1zM816 305h1v1h-1zM1135 305h1v1h-1zM191 306h1v1h-1zM816 306h1v1h-1zM1133 306h2v1h-2zM191 307h1v1h-1zM817 307h1v1h-1zM1132 307h1v1h-1zM191 308h1v1h-1zM817 308h1v1h-1zM1131 308h1v1h-1zM190 309h1v1h-1zM817 309h1v1h-1zM1130 309h1v1h-1zM190 310h1v1h-1zM818 310h1v1h-1zM1130 310h1v1h-1zM190 311h1v1h-1zM818 311h1v1h-1zM1129 311h1v1h-1zM190 312h1v1h-1zM818 312h1v1h-1zM1128 312h1v1h-1zM189 313h1v1h-1zM819 313h1v1h-1zM1127 313h1v1h-1zM189 314h1v1h-1zM819 314h1v1h-1zM1126 314h1v1h-1zM189 315h1v1h-1zM820 315h1v1h-1zM1126 315h1v1h-1zM189 316h1v1h-1zM820 316h1v1h-1zM1125 316h1v1h-1zM188 317h1v1h-1zM820 317h1v1h-1zM1124 317h1v1h-1zM188 318h1v1h-1zM821 318h1v1h-1zM1123 318h1v1h-1zM188 319h1v1h-1zM821 319h1v1h-1zM1122 319h1v1h-1zM188 320h1v1h-1zM821 320h1v1h-1zM1122 320h1v1h-1zM187 321h1v1h-1zM821 321h1v1h-1zM1121 321h1v1h-1zM187 322h1v1h-1zM822 322h1v1h-1zM1120 322h1v1h-1zM187 323h1v1h-1zM822 323h1v1h-1zM1119 323h1v1h-1zM186 324h1v1h-1zM822 324h1v1h-1zM1118 324h1v1h-1zM186 325h1v1h-1zM822 325h1v1h-1zM1118 325h1v1h-1zM186 326h1v1h-1zM823 326h1v1h-1zM1117 326h1v1h-1zM186 327h1v1h-1zM823 327h1v1h-1zM1116 327h1v1h-1zM185 328h1v1h-1zM823 328h1v1h-1zM1115 328h1v1h-1zM185 329h1v1h-1zM823 329h1v1h-1zM1115 329h1v1h-1zM185 330h1v1h-1zM824 330h1v1h-1zM1114 330h1v1h-1zM184 331h1v1h-1zM824 331h1v1h-1zM1114 331h1v1h-1zM184 332h1v1h-1zM824 332h1v1h-1zM1113 332h1v1h-1zM184 333h1v1h-1zM824 333h1v1h-1zM1113 333h1v1h-1zM183 334h1v1h-1zM825 334h1v1h-1zM1112 334h1v1h-1zM183 335h1v1h-1zM825 335h1v1h-1zM1111 335h1v1h-1zM183 336h1v1h-1zM825 336h1v1h-1zM1111 336h1v1h-1zM182 337h1v1h-1zM825 337h1v1h-1zM1110 337h1v1h-1zM182 338h1v1h-1zM826 338h1v1h-1zM1110 338h1v1h-1zM182 339h1v1h-1zM826 339h1v1h-1zM1109 339h1v1h-1zM182 340h1v1h-1zM826 340h1v1h-1zM1109 340h1v1h-1zM181 341h1v1h-1zM826 341h1v1h-1zM1108 341h1v1h-1zM181 342h1v1h-1zM827 342h1v1h-1zM1107 342h1v1h-1zM181 343h1v1h-1zM827 343h1v1h-1zM1106 343h1v1h-1zM180 344h1v1h-1zM827 344h1v1h-1zM1106 344h1v1h-1zM180 345h1v1h-1zM827 345h1v1h-1zM1105 345h1v1h-1zM180 346h1v1h-1zM828 346h1v1h-1zM1104 346h1v1h-1zM179 347h1v1h-1zM828 347h1v1h-1zM1103 347h1v1h-1zM179 348h1v1h-1zM828 348h1v1h-1zM1102 348h1v1h-1zM178 349h1v1h-1zM829 349h1v1h-1zM1102 349h1v1h-1zM178 350h1v1h-1zM829 350h1v1h-1zM1101 350h1v1h-1zM178 351h1v1h-1zM829 351h1v1h-1zM1100 351h1v1h-1zM177 352h1v1h-1zM829 352h1v1h-1zM1099 352h1v1h-1zM177 353h1v1h-1zM830 353h1v1h-1zM1099 353h1v1h-1zM176 354h1v1h-1zM830 354h1v1h-1zM1098 354h1v1h-1zM176 355h1v1h-1zM830 355h1v1h-1zM1097 355h1v1h-1zM176 356h1v1h-1zM831 356h1v1h-1zM1097 356h1v1h-1zM175 357h1v1h-1zM831 357h1v1h-1zM1096 357h1v1h-1zM175 358h1v1h-1zM831 358h1v1h-1zM1095 358h1v1h-1zM174 359h1v1h-1zM831 359h1v1h-1zM1095 359h1v1h-1zM174 360h1v1h-1zM832 360h1v1h-1zM1094 360h1v1h-1zM174 361h1v1h-1zM832 361h1v1h-1zM1093 361h1v1h-1zM173 362h1v1h-1zM832 362h1v1h-1zM1093 362h1v1h-1zM173 363h1v1h-1zM833 363h1v1h-1zM1092 363h1v1h-1zM172 364h1v1h-1zM833 364h1v1h-1zM1091 364h1v1h-1zM172 365h1v1h-1zM833 365h1v1h-1zM1090 365h1v1h-1zM171 366h1v1h-1zM833 366h1v1h-1zM1090 366h1v1h-1zM171 367h1v1h-1zM834 367h1v1h-1zM875 367h10v1h-10zM1089 367h1v1h-1zM170 368h1v1h-1zM834 368h1v1h-1zM873 368h2v1h-2zM885 368h1v1h-1zM1088 368h1v1h-1zM170 369h1v1h-1zM834 369h1v1h-1zM871 369h2v1h-2zM886 369h1v1h-1zM1087 369h1v1h-1zM169 370h1v1h-1zM835 370h1v1h-1zM869 370h2v1h-2zM887 370h1v1h-1zM1086 370h1v1h-1zM168 371h1v1h-1zM835 371h1v1h-1zM868 371h1v1h-1zM888 371h1v1h-1zM1086 371h1v1h-1zM168 372h1v1h-1zM835 372h1v1h-1zM867 372h1v1h-1zM888 372h1v1h-1zM1085 372h1v1h-1zM167 373h1v1h-1zM835 373h1v1h-1zM867 373h1v1h-1zM889 373h1v1h-1zM1084 373h1v1h-1zM166 374h1v1h-1zM836 374h1v1h-1zM866 374h1v1h-1zM890 374h1v1h-1zM1083 374h1v1h-1zM166 375h1v1h-1zM836 375h1v1h-1zM866 375h1v1h-1zM891 375h1v1h-1zM1082 375h1v1h-1zM165 376h1v1h-1zM836 376h1v1h-1zM865 376h1v1h-1zM892 376h4v1h-4zM1082 376h1v1h-1zM165 377h1v1h-1zM837 377h1v1h-1zM865 377h1v1h-1zM896 377h5v1h-5zM1081 377h1v1h-1zM164 378h1v1h-1zM837 378h1v1h-1zM864 378h1v1h-1zM901 378h1v1h-1zM924 378h1v1h-1zM1080 378h1v1h-1zM164 379h1v1h-1zM838 379h1v1h-1zM863 379h1v1h-1zM902 379h2v1h-2zM922 379h2v1h-2zM925 379h2v1h-2zM1079 379h1v1h-1zM163 380h1v1h-1zM838 380h1v1h-1zM863 380h1v1h-1zM904 380h1v1h-1zM921 380h1v1h-1zM927 380h1v1h-1zM1078 380h1v1h-1zM163 381h1v1h-1zM838 381h1v1h-1zM862 381h1v1h-1zM905 381h1v1h-1zM920 381h1v1h-1zM928 381h2v1h-2zM1078 381h1v1h-1zM163 382h1v1h-1zM839 382h1v1h-1zM862 382h1v1h-1zM906 382h2v1h-2zM918 382h2v1h-2zM930 382h2v1h-2zM1077 382h1v1h-1zM162 383h1v1h-1zM839 383h1v1h-1zM861 383h1v1h-1zM908 383h4v1h-4zM917 383h1v1h-1zM932 383h1v1h-1zM1076 383h1v1h-1zM162 384h1v1h-1zM839 384h1v1h-1zM861 384h1v1h-1zM912 384h5v1h-5zM933 384h1v1h-1zM1075 384h1v1h-1zM161 385h1v1h-1zM840 385h1v1h-1zM859 385h2v1h-2zM933 385h1v1h-1zM1074 385h1v1h-1zM161 386h1v1h-1zM840 386h1v1h-1zM856 386h3v1h-3zM934 386h1v1h-1zM1073 386h1v1h-1zM161 387h1v1h-1zM841 387h1v1h-1zM854 387h2v1h-2zM934 387h1v1h-1zM1072 387h1v1h-1zM160 388h1v1h-1zM841 388h1v1h-1zM852 388h2v1h-2zM935 388h1v1h-1zM1071 388h1v1h-1zM160 389h1v1h-1zM841 389h1v1h-1zM851 389h1v1h-1zM935 389h1v1h-1zM1070 389h1v1h-1zM160 390h1v1h-1zM842 390h1v1h-1zM850 390h1v1h-1zM936 390h1v1h-1zM1069 390h1v1h-1zM159 391h1v1h-1zM842 391h1v1h-1zM849 391h1v1h-1zM936 391h1v1h-1zM1068 391h1v1h-1zM159 392h1v1h-1zM842 392h1v1h-1zM848 392h1v1h-1zM937 392h1v1h-1zM1067 392h1v1h-1zM159 393h1v1h-1zM843 393h1v1h-1zM847 393h1v1h-1zM937 393h1v1h-1zM1066 393h1v1h-1zM158 394h1v1h-1zM843 394h1v1h-1zM846 394h1v1h-1zM938 394h1v1h-1zM1065 394h1v1h-1zM158 395h1v1h-1zM844 395h2v1h-2zM938 395h1v1h-1zM1064 395h1v1h-1zM157 396h1v1h-1zM844 396h1v1h-1zM939 396h1v1h-1zM1063 396h1v1h-1zM157 397h1v1h-1zM939 397h1v1h-1zM1062 397h1v1h-1zM157 398h1v1h-1zM940 398h1v1h-1zM1061 398h1v1h-1zM156 399h1v1h-1zM940 399h1v1h-1zM1060 399h1v1h-1zM156 400h1v1h-1zM941 400h1v1h-1zM1059 400h1v1h-1zM155 401h1v1h-1zM941 401h1v1h-1zM1059 401h1v1h-1zM155 402h1v1h-1zM942 402h1v1h-1zM1058 402h1v1h-1zM154 403h1v1h-1zM942 403h1v1h-1zM1058 403h1v1h-1zM153 404h1v1h-1zM943 404h1v1h-1zM1057 404h1v1h-1zM153 405h1v1h-1zM943 405h1v1h-1zM1057 405h1v1h-1zM152 406h1v1h-1zM943 406h1v1h-1zM1056 406h1v1h-1zM151 407h1v1h-1zM944 407h1v1h-1zM1055 407h1v1h-1zM151 408h1v1h-1zM944 408h1v1h-1zM1055 408h1v1h-1zM150 409h1v1h-1zM945 409h1v1h-1zM1054 409h1v1h-1zM149 410h1v1h-1zM945 410h1v1h-1zM1054 410h1v1h-1zM149 411h1v1h-1zM945 411h1v1h-1zM1053 411h1v1h-1zM148 412h1v1h-1zM946 412h1v1h-1zM1053 412h1v1h-1zM147 413h1v1h-1zM946 413h1v1h-1zM1052 413h1v1h-1zM146 414h1v1h-1zM947 414h1v1h-1zM1052 414h1v1h-1zM145 415h1v1h-1zM947 415h1v1h-1zM1051 415h1v1h-1zM144 416h1v1h-1zM948 416h1v1h-1zM1051 416h1v1h-1zM143 417h1v1h-1zM948 417h1v1h-1zM1050 417h1v1h-1zM142 418h1v1h-1zM948 418h1v1h-1zM1050 418h1v1h-1zM115 419h2v1h-2zM141 419h1v1h-1zM949 419h1v1h-1zM1050 419h1v1h-1zM113 420h2v1h-2zM117 420h1v1h-1zM140 420h1v1h-1zM949 420h1v1h-1zM1049 420h1v1h-1zM111 421h2v1h-2zM118 421h1v1h-1zM139 421h1v1h-1zM950 421h1v1h-1zM1049 421h1v1h-1zM109 422h2v1h-2zM118 422h1v1h-1zM138 422h1v1h-1zM950 422h1v1h-1zM1048 422h1v1h-1zM107 423h2v1h-2zM119 423h1v1h-1zM137 423h1v1h-1zM951 423h1v1h-1zM1048 423h1v1h-1zM104 424h3v1h-3zM120 424h1v1h-1zM136 424h1v1h-1zM951 424h1v1h-1zM1048 424h1v1h-1zM102 425h2v1h-2zM121 425h1v1h-1zM136 425h1v1h-1zM952 425h1v1h-1zM1047 425h1v1h-1zM99 426h3v1h-3zM122 426h1v1h-1zM135 426h1v1h-1zM952 426h1v1h-1zM1047 426h1v1h-1zM96 427h3v1h-3zM122 427h1v1h-1zM134 427h1v1h-1zM953 427h1v1h-1zM1046 427h1v1h-1zM94 428h2v1h-2zM123 428h1v1h-1zM133 428h1v1h-1zM953 428h1v1h-1zM1046 428h1v1h-1zM92 429h2v1h-2zM124 429h9v1h-9zM954 429h1v1h-1zM1046 429h1v1h-1zM91 430h1v1h-1zM954 430h1v1h-1zM1045 430h1v1h-1zM36 431h1v1h-1zM90 431h1v1h-1zM955 431h1v1h-1zM1045 431h1v1h-1zM36 432h2v1h-2zM90 432h1v1h-1zM955 432h1v1h-1zM1044 432h1v1h-1zM35 433h1v1h-1zM38 433h1v1h-1zM89 433h1v1h-1zM956 433h1v1h-1zM1044 433h1v1h-1zM35 434h1v1h-1zM38 434h1v1h-1zM88 434h1v1h-1zM956 434h1v1h-1zM1044 434h1v1h-1zM34 435h1v1h-1zM39 435h1v1h-1zM87 435h1v1h-1zM956 435h1v1h-1zM1043 435h1v1h-1zM34 436h1v1h-1zM40 436h1v1h-1zM86 436h1v1h-1zM957 436h1v1h-1zM1043 436h1v1h-1zM33 437h1v1h-1zM41 437h1v1h-1zM86 437h1v1h-1zM957 437h1v1h-1zM1042 437h1v1h-1zM33 438h1v1h-1zM42 438h1v1h-1zM85 438h1v1h-1zM958 438h1v1h-1zM1042 438h1v1h-1zM32 439h1v1h-1zM42 439h1v1h-1zM84 439h1v1h-1zM958 439h1v1h-1zM1041 439h1v1h-1zM32 440h1v1h-1zM43 440h1v1h-1zM84 440h1v1h-1zM958 440h1v1h-1zM1041 440h1v1h-1zM31 441h1v1h-1zM44 441h1v1h-1zM83 441h1v1h-1zM959 441h1v1h-1zM1041 441h1v1h-1zM31 442h1v1h-1zM45 442h1v1h-1zM83 442h1v1h-1zM959 442h1v1h-1zM1040 442h1v1h-1zM30 443h1v1h-1zM46 443h1v1h-1zM82 443h1v1h-1zM959 443h1v1h-1zM1040 443h1v1h-1zM30 444h1v1h-1zM47 444h1v1h-1zM82 444h1v1h-1zM960 444h1v1h-1zM1039 444h1v1h-1zM29 445h1v1h-1zM48 445h1v1h-1zM81 445h1v1h-1zM960 445h1v1h-1zM1039 445h1v1h-1zM29 446h1v1h-1zM48 446h1v1h-1zM81 446h1v1h-1zM961 446h1v1h-1zM1039 446h1v1h-1zM28 447h1v1h-1zM49 447h1v1h-1zM80 447h1v1h-1zM961 447h1v1h-1zM1038 447h1v1h-1zM28 448h1v1h-1zM50 448h1v1h-1zM80 448h1v1h-1zM961 448h1v1h-1zM1038 448h1v1h-1zM27 449h1v1h-1zM51 449h1v1h-1zM79 449h1v1h-1zM962 449h1v1h-1zM1037 449h1v1h-1zM27 450h1v1h-1zM52 450h1v1h-1zM79 450h1v1h-1zM962 450h1v1h-1zM1037 450h1v1h-1zM26 451h1v1h-1zM53 451h1v1h-1zM78 451h1v1h-1zM962 451h1v1h-1zM1036 451h1v1h-1zM26 452h1v1h-1zM54 452h1v1h-1zM78 452h1v1h-1zM963 452h1v1h-1zM1036 452h1v1h-1zM25 453h1v1h-1zM55 453h1v1h-1zM77 453h1v1h-1zM963 453h1v1h-1zM1036 453h1v1h-1zM25 454h1v1h-1zM56 454h1v1h-1zM77 454h1v1h-1zM964 454h1v1h-1zM1035 454h1v1h-1zM24 455h1v1h-1zM56 455h1v1h-1zM76 455h1v1h-1zM964 455h1v1h-1zM1035 455h1v1h-1zM24 456h1v1h-1zM57 456h1v1h-1zM75 456h2v1h-2zM965 456h1v1h-1zM1034 456h1v1h-1zM23 457h1v1h-1zM58 457h1v1h-1zM72 457h3v1h-3zM965 457h1v1h-1zM1034 457h1v1h-1zM23 458h1v1h-1zM59 458h1v1h-1zM70 458h2v1h-2zM966 458h1v1h-1zM1033 458h1v1h-1zM22 459h1v1h-1zM60 459h10v1h-10zM966 459h1v1h-1zM1033 459h1v1h-1zM22 460h1v1h-1zM967 460h1v1h-1zM1032 460h1v1h-1zM21 461h1v1h-1zM967 461h1v1h-1zM1032 461h1v1h-1zM21 462h1v1h-1zM968 462h1v1h-1zM1031 462h1v1h-1zM20 463h1v1h-1zM969 463h1v1h-1zM1031 463h1v1h-1zM20 464h1v1h-1zM969 464h1v1h-1zM1030 464h1v1h-1zM20 465h1v1h-1zM970 465h1v1h-1zM1030 465h1v1h-1zM19 466h1v1h-1zM970 466h1v1h-1zM1029 466h1v1h-1zM19 467h1v1h-1zM971 467h1v1h-1zM1029 467h1v1h-1zM19 468h1v1h-1zM971 468h1v1h-1zM1028 468h1v1h-1zM19 469h1v1h-1zM972 469h1v1h-1zM1028 469h1v1h-1zM19 470h1v1h-1zM973 470h1v1h-1zM1028 470h1v1h-1zM18 471h1v1h-1zM973 471h1v1h-1zM1027 471h1v1h-1zM18 472h1v1h-1zM974 472h1v1h-1zM1027 472h1v1h-1zM18 473h1v1h-1zM974 473h1v1h-1zM1026 473h1v1h-1zM18 474h1v1h-1zM975 474h1v1h-1zM1026 474h1v1h-1zM18 475h1v1h-1zM975 475h1v1h-1zM1025 475h1v1h-1zM17 476h1v1h-1zM976 476h1v1h-1zM1025 476h1v1h-1zM17 477h1v1h-1zM976 477h1v1h-1zM1024 477h1v1h-1zM17 478h1v1h-1zM977 478h1v1h-1zM1024 478h1v1h-1zM17 479h1v1h-1zM977 479h1v1h-1zM1023 479h1v1h-1zM17 480h1v1h-1zM978 480h1v1h-1zM1023 480h1v1h-1zM16 481h1v1h-1zM978 481h1v1h-1zM1022 481h1v1h-1zM16 482h1v1h-1zM979 482h1v1h-1zM1022 482h1v1h-1zM16 483h1v1h-1zM979 483h1v1h-1zM1021 483h1v1h-1zM16 484h1v1h-1zM980 484h1v1h-1zM1021 484h1v1h-1zM15 485h1v1h-1zM980 485h1v1h-1zM1020 485h1v1h-1zM15 486h1v1h-1zM981 486h2v1h-2zM1020 486h1v1h-1zM15 487h1v1h-1zM983 487h1v1h-1zM1019 487h1v1h-1zM15 488h1v1h-1zM984 488h2v1h-2zM1019 488h1v1h-1zM15 489h1v1h-1zM986 489h2v1h-2zM1018 489h1v1h-1zM14 490h1v1h-1zM988 490h1v1h-1zM1018 490h1v1h-1zM14 491h1v1h-1zM989 491h2v1h-2zM1017 491h1v1h-1zM14 492h1v1h-1zM991 492h2v1h-2zM1016 492h1v1h-1zM14 493h1v1h-1zM993 493h2v1h-2zM1016 493h1v1h-1zM14 494h1v1h-1zM995 494h3v1h-3zM1015 494h1v1h-1zM13 495h1v1h-1zM998 495h4v1h-4zM1014 495h1v1h-1zM13 496h1v1h-1zM1002 496h4v1h-4zM1014 496h1v1h-1zM13 497h1v1h-1zM1006 497h2v1h-2zM1013 497h1v1h-1zM13 498h1v1h-1zM1008 498h3v1h-3zM1013 498h1v1h-1zM13 499h1v1h-1zM1011 499h2v1h-2zM12 500h1v1h-1zM12 501h1v1h-1zM12 502h1v1h-1zM12 503h1v1h-1zM12 504h1v1h-1zM11 505h1v1h-1zM11 506h1v1h-1zM11 507h1v1h-1zM11 508h1v1h-1zM10 509h1v1h-1zM10 510h1v1h-1zM10 511h1v1h-1zM10 512h1v1h-1zM9 513h1v1h-1zM9 514h1v1h-1zM9 515h1v1h-1zM9 516h1v1h-1zM9 517h1v1h-1zM8 518h1v1h-1zM8 519h1v1h-1zM8 520h1v1h-1zM8 521h1v1h-1zM7 522h1v1h-1zM7 523h1v1h-1zM7 524h1v1h-1zM7 525h1v1h-1zM7 526h1v1h-1zM6 527h1v1h-1zM6 528h1v1h-1zM6 529h1v1h-1zM6 530h1v1h-1zM5 531h1v1h-1zM5 532h1v1h-1zM5 533h1v1h-1zM5 534h1v1h-1zM4 535h1v1h-1zM4 536h1v1h-1zM4 537h1v1h-1zM4 538h1v1h-1z" fill="#ffa500"/>
<rect x="4" y="88" width="1576" height="2" fill="#ff4500"/>
<rect x="4" y="163" width="1576" height="2" fill="#ff4500"/>
<rect x="3" y="161" width="6" height="6" fill="#ff4500"/>
<rect x="5" y="163" width="2" height="2" fill="#ffffff"/>
<rect x="1574" y="161" width="6" height="6" fill="#ff4500"/>
<rect x="1576" y="163" width="2" height="2" fill="#ffffff"/>
<rect x="4" y="227" width="1576" height="2" fill="#ff0000"/>
<rect x="3" y="225" width="6" height="6" fill="#ff0000"/>
<rect x="5" y="227" width="2" height="2" fill="#ffffff"/>
<rect x="1574" y="225" width="6" height="6" fill="#ff0000"/>
<rect x="1576" y="227" width="2" height="2" fill="#ffffff"/>
<rect x="4" y="314" width="1576" height="2" fill="#00ff00"/>
<rect x="3" y="312" width="6" height="6" fill="#00ff00"/>
<rect x="5" y="314" width="2" height="2" fill="#ffffff"/>
<rect x="1574" y="312" width="6" height="6" fill="#00ff00"/>
<rect x="1576" y="314" width="2" height="2" fill="#ffffff"/>
<rect x="4" y="388" width="1576" height="2" fill="#0000ff"/>
<rect x="3" y="386" width="6" height="6" fill="#0000ff"/>
<rect x="5" y="388" width="2" height="2" fill="#ffffff"/>
<rect x="1574" y="386" width="6" height="6" fill="#0000ff"/>
<rect x="1576" y="388" width="2" height="2" fill="#ffffff"/>
<rect x="4" y="464" width="1576" height="2" fill="#0000ff"/>
<rect x="4" y="538" width="1576" height="2" fill="#0000ff"/>
<rect x="3" y="536" width="6" height="6" fill="#0000ff"/>
<rect x="5" y="538" width="2" height="2" fill="#ffffff"/>
<rect x="1574" y="536" width="6" height="6" fill="#0000ff"/>
<rect x="1576" y="538" width="2" height="2" fill="#ffffff"/>
</g>
<g clip-path="url(#cr)">
<line x1="5" y1="587.5" x2="1580" y2="587.5" stroke="#c0c0c0" stroke-width="1" stroke-dasharray="3 3"/>
<line x1="5" y1="624.5" x2="1580" y2="624.5" stroke="#c0c0c0" stroke-width="1" stroke-dasharray="3 3"/>
<path d="M195 579h3v1h-3zM193 580h2v1h-2zM198 580h2v1h-2zM191 581h2v1h-2zM200 581h3v1h-3zM189 582h2v1h-2zM203 582h5v1h-5zM291 582h3v1h-3zM187 583h2v1h-2zM208 583h8v1h-8zM289 583h2v1h-2zM294 583h4v1h-4zM304 583h5v1h-5zM184 584h3v1h-3zM216 584h6v1h-6zM287 584h2v1h-2zM298 584h6v1h-6zM309 584h1v1h-1zM371 584h2v1h-2zM182 585h2v1h-2zM222 585h2v1h-2zM285 585h2v1h-2zM310 585h2v1h-2zM369 585h2v1h-2zM373 585h1v1h-1zM180 586h2v1h-2zM224 586h3v1h-3zM282 586h3v1h-3zM312 586h1v1h-1zM367 586h2v1h-2zM374 586h1v1h-1zM1154 586h4v1h-4zM1184 586h5v1h-5zM178 587h2v1h-2zM227 587h2v1h-2zM278 587h4v1h-4zM313 587h1v1h-1zM365 587h2v1h-2zM374 587h1v1h-1zM1150 587h4v1h-4zM1158 587h4v1h-4zM1178 587h6v1h-6zM1189 587h1v1h-1zM176 588h2v1h-2zM229 588h2v1h-2zM243 588h2v1h-2zM274 588h4v1h-4zM314 588h2v1h-2zM363 588h2v1h-2zM375 588h1v1h-1zM1120 588h6v1h-6zM1148 588h2v1h-2zM1162 588h6v1h-6zM1174 588h4v1h-4zM1189 588h1v1h-1zM175 589h1v1h-1zM231 589h1v1h-1zM241 589h2v1h-2zM245 589h2v1h-2zM270 589h4v1h-4zM316 589h1v1h-1zM360 589h3v1h-3zM376 589h1v1h-1zM1116 589h4v1h-4zM1126 589h4v1h-4zM1146 589h2v1h-2zM1168 589h6v1h-6zM1190 589h1v1h-1zM173 590h2v1h-2zM232 590h2v1h-2zM239 590h2v1h-2zM247 590h2v1h-2zM264 590h6v1h-6zM317 590h1v1h-1zM358 590h2v1h-2zM377 590h1v1h-1zM1114 590h2v1h-2zM1130 590h3v1h-3zM1145 590h1v1h-1zM1190 590h1v1h-1zM162 591h11v1h-11zM234 591h2v1h-2zM237 591h2v1h-2zM249 591h2v1h-2zM256 591h8v1h-8zM318 591h2v1h-2zM355 591h3v1h-3zM378 591h1v1h-1zM1112 591h2v1h-2zM1133 591h2v1h-2zM1144 591h1v1h-1zM1191 591h1v1h-1zM158 592h4v1h-4zM236 592h1v1h-1zM251 592h5v1h-5zM320 592h1v1h-1zM352 592h3v1h-3zM378 592h1v1h-1zM400 592h14v1h-14zM1111 592h1v1h-1zM1135 592h2v1h-2zM1142 592h2v1h-2zM1191 592h1v1h-1zM155 593h3v1h-3zM321 593h1v1h-1zM350 593h2v1h-2zM379 593h1v1h-1zM396 593h4v1h-4zM414 593h2v1h-2zM1083 593h3v1h-3zM1098 593h6v1h-6zM1109 593h2v1h-2zM1137 593h2v1h-2zM1141 593h1v1h-1zM1192 593h1v1h-1zM152 594h3v1h-3zM322 594h2v1h-2zM328 594h22v1h-22zM380 594h1v1h-1zM394 594h2v1h-2zM416 594h3v1h-3zM1081 594h2v1h-2zM1086 594h4v1h-4zM1094 594h4v1h-4zM1104 594h5v1h-5zM1139 594h2v1h-2zM1192 594h1v1h-1zM11 595h10v1h-10zM150 595h2v1h-2zM324 595h4v1h-4zM381 595h2v1h-2zM392 595h2v1h-2zM419 595h5v1h-5zM756 595h1v1h-1zM1079 595h2v1h-2zM1090 595h4v1h-4zM1193 595h1v1h-1zM9 596h2v1h-2zM21 596h2v1h-2zM139 596h11v1h-11zM383 596h2v1h-2zM391 596h1v1h-1zM424 596h5v1h-5zM755 596h1v1h-1zM757 596h1v1h-1zM1077 596h2v1h-2zM1193 596h1v1h-1zM7 597h2v1h-2zM23 597h1v1h-1zM83 597h10v1h-10zM136 597h3v1h-3zM385 597h2v1h-2zM389 597h2v1h-2zM429 597h1v1h-1zM754 597h1v1h-1zM758 597h1v1h-1zM1075 597h2v1h-2zM1194 597h1v1h-1zM1212 597h1v1h-1zM5 598h2v1h-2zM24 598h2v1h-2zM80 598h3v1h-3zM93 598h2v1h-2zM134 598h2v1h-2zM387 598h2v1h-2zM430 598h2v1h-2zM753 598h1v1h-1zM759 598h1v1h-1zM1073 598h2v1h-2zM1194 598h1v1h-1zM1210 598h2v1h-2zM1213 598h1v1h-1zM1242 598h3v1h-3zM4 599h1v1h-1zM26 599h2v1h-2zM78 599h2v1h-2zM95 599h2v1h-2zM112 599h5v1h-5zM132 599h2v1h-2zM432 599h1v1h-1zM739 599h2v1h-2zM752 599h1v1h-1zM760 599h1v1h-1zM1071 599h2v1h-2zM1195 599h1v1h-1zM1208 599h2v1h-2zM1214 599h1v1h-1zM1238 599h4v1h-4zM28 600h4v1h-4zM72 600h6v1h-6zM97 600h2v1h-2zM104 600h8v1h-8zM117 600h1v1h-1zM130 600h2v1h-2zM433 600h1v1h-1zM736 600h3v1h-3zM741 600h2v1h-2zM752 600h1v1h-1zM760 600h1v1h-1zM1069 600h2v1h-2zM1195 600h1v1h-1zM1207 600h1v1h-1zM1215 600h1v1h-1zM1236 600h2v1h-2zM32 601h5v1h-5zM64 601h8v1h-8zM99 601h5v1h-5zM118 601h2v1h-2zM129 601h1v1h-1zM434 601h2v1h-2zM734 601h2v1h-2zM743 601h1v1h-1zM751 601h1v1h-1zM761 601h1v1h-1zM1040 601h8v1h-8zM1056 601h13v1h-13zM1196 601h4v1h-4zM1205 601h2v1h-2zM1216 601h2v1h-2zM1234 601h2v1h-2zM37 602h1v1h-1zM52 602h12v1h-12zM120 602h1v1h-1zM128 602h1v1h-1zM436 602h1v1h-1zM651 602h11v1h-11zM682 602h4v1h-4zM730 602h4v1h-4zM744 602h2v1h-2zM750 602h1v1h-1zM762 602h1v1h-1zM1036 602h4v1h-4zM1048 602h8v1h-8zM1200 602h5v1h-5zM1218 602h1v1h-1zM1232 602h2v1h-2zM38 603h2v1h-2zM50 603h2v1h-2zM121 603h1v1h-1zM126 603h2v1h-2zM437 603h1v1h-1zM523 603h5v1h-5zM649 603h2v1h-2zM662 603h4v1h-4zM678 603h4v1h-4zM686 603h4v1h-4zM716 603h4v1h-4zM726 603h4v1h-4zM746 603h2v1h-2zM749 603h1v1h-1zM763 603h1v1h-1zM1034 603h2v1h-2zM1219 603h1v1h-1zM1231 603h1v1h-1zM40 604h1v1h-1zM48 604h2v1h-2zM122 604h2v1h-2zM125 604h1v1h-1zM438 604h1v1h-1zM520 604h3v1h-3zM528 604h5v1h-5zM548 604h1v1h-1zM647 604h2v1h-2zM666 604h12v1h-12zM690 604h3v1h-3zM714 604h2v1h-2zM720 604h6v1h-6zM748 604h1v1h-1zM764 604h1v1h-1zM1032 604h2v1h-2zM1220 604h4v1h-4zM1229 604h2v1h-2zM41 605h1v1h-1zM47 605h1v1h-1zM124 605h1v1h-1zM439 605h1v1h-1zM518 605h2v1h-2zM533 605h2v1h-2zM546 605h2v1h-2zM549 605h1v1h-1zM571 605h3v1h-3zM645 605h2v1h-2zM693 605h1v1h-1zM713 605h1v1h-1zM765 605h2v1h-2zM1031 605h1v1h-1zM1224 605h5v1h-5zM42 606h2v1h-2zM45 606h2v1h-2zM440 606h1v1h-1zM516 606h2v1h-2zM535 606h1v1h-1zM544 606h2v1h-2zM550 606h1v1h-1zM568 606h3v1h-3zM574 606h4v1h-4zM644 606h1v1h-1zM694 606h1v1h-1zM712 606h1v1h-1zM767 606h1v1h-1zM1029 606h2v1h-2zM44 607h1v1h-1zM441 607h1v1h-1zM514 607h2v1h-2zM536 607h2v1h-2zM543 607h1v1h-1zM551 607h1v1h-1zM566 607h2v1h-2zM578 607h3v1h-3zM642 607h2v1h-2zM694 607h1v1h-1zM710 607h2v1h-2zM768 607h2v1h-2zM1028 607h1v1h-1zM442 608h1v1h-1zM456 608h6v1h-6zM513 608h1v1h-1zM538 608h2v1h-2zM541 608h2v1h-2zM552 608h1v1h-1zM563 608h3v1h-3zM581 608h2v1h-2zM641 608h1v1h-1zM695 608h1v1h-1zM709 608h1v1h-1zM770 608h2v1h-2zM1026 608h2v1h-2zM443 609h1v1h-1zM448 609h8v1h-8zM462 609h2v1h-2zM500 609h2v1h-2zM512 609h1v1h-1zM540 609h1v1h-1zM553 609h1v1h-1zM561 609h2v1h-2zM583 609h1v1h-1zM640 609h1v1h-1zM696 609h1v1h-1zM708 609h1v1h-1zM772 609h2v1h-2zM792 609h6v1h-6zM1024 609h2v1h-2zM444 610h4v1h-4zM464 610h3v1h-3zM499 610h1v1h-1zM502 610h2v1h-2zM510 610h2v1h-2zM554 610h1v1h-1zM559 610h2v1h-2zM584 610h2v1h-2zM638 610h2v1h-2zM697 610h1v1h-1zM706 610h2v1h-2zM774 610h4v1h-4zM784 610h8v1h-8zM798 610h2v1h-2zM1023 610h1v1h-1zM467 611h2v1h-2zM498 611h1v1h-1zM504 611h3v1h-3zM509 611h1v1h-1zM555 611h1v1h-1zM557 611h2v1h-2zM586 611h2v1h-2zM637 611h1v1h-1zM698 611h1v1h-1zM704 611h2v1h-2zM778 611h6v1h-6zM800 611h3v1h-3zM923 611h2v1h-2zM1021 611h2v1h-2zM469 612h2v1h-2zM497 612h1v1h-1zM507 612h2v1h-2zM556 612h1v1h-1zM588 612h1v1h-1zM626 612h11v1h-11zM698 612h1v1h-1zM703 612h1v1h-1zM803 612h2v1h-2zM852 612h2v1h-2zM866 612h4v1h-4zM920 612h3v1h-3zM925 612h2v1h-2zM1020 612h1v1h-1zM471 613h1v1h-1zM496 613h1v1h-1zM589 613h2v1h-2zM622 613h4v1h-4zM699 613h1v1h-1zM701 613h2v1h-2zM805 613h1v1h-1zM851 613h1v1h-1zM854 613h4v1h-4zM862 613h4v1h-4zM870 613h2v1h-2zM898 613h6v1h-6zM918 613h2v1h-2zM927 613h1v1h-1zM1019 613h1v1h-1zM472 614h2v1h-2zM496 614h1v1h-1zM591 614h1v1h-1zM620 614h2v1h-2zM700 614h1v1h-1zM806 614h1v1h-1zM850 614h1v1h-1zM858 614h4v1h-4zM872 614h3v1h-3zM894 614h4v1h-4zM904 614h14v1h-14zM928 614h2v1h-2zM1018 614h1v1h-1zM474 615h2v1h-2zM495 615h1v1h-1zM592 615h2v1h-2zM619 615h1v1h-1zM807 615h1v1h-1zM848 615h2v1h-2zM875 615h5v1h-5zM888 615h6v1h-6zM930 615h2v1h-2zM1016 615h2v1h-2zM476 616h2v1h-2zM494 616h1v1h-1zM594 616h2v1h-2zM618 616h1v1h-1zM808 616h1v1h-1zM847 616h1v1h-1zM880 616h8v1h-8zM932 616h1v1h-1zM1015 616h1v1h-1zM478 617h4v1h-4zM493 617h1v1h-1zM596 617h4v1h-4zM616 617h2v1h-2zM808 617h1v1h-1zM846 617h1v1h-1zM933 617h2v1h-2zM1000 617h6v1h-6zM1014 617h1v1h-1zM482 618h11v1h-11zM600 618h6v1h-6zM615 618h1v1h-1zM809 618h1v1h-1zM845 618h1v1h-1zM935 618h2v1h-2zM996 618h4v1h-4zM1006 618h4v1h-4zM1013 618h1v1h-1zM606 619h2v1h-2zM614 619h1v1h-1zM810 619h1v1h-1zM840 619h5v1h-5zM937 619h2v1h-2zM994 619h2v1h-2zM1010 619h3v1h-3zM608 620h3v1h-3zM613 620h1v1h-1zM811 620h1v1h-1zM816 620h6v1h-6zM835 620h5v1h-5zM939 620h3v1h-3zM955 620h5v1h-5zM992 620h2v1h-2zM611 621h2v1h-2zM812 621h4v1h-4zM822 621h2v1h-2zM832 621h3v1h-3zM942 621h2v1h-2zM952 621h3v1h-3zM960 621h8v1h-8zM991 621h1v1h-1zM824 622h3v1h-3zM830 622h2v1h-2zM944 622h3v1h-3zM950 622h2v1h-2zM968 622h6v1h-6zM989 622h2v1h-2zM827 623h3v1h-3zM947 623h3v1h-3zM974 623h2v1h-2zM986 623h3v1h-3zM976 624h3v1h-3zM982 624h4v1h-4zM979 625h3v1h-3z" fill="#1e90ff"/>
</g>
<g clip-path="url(#cd)">
<rect x="4" y="709" width="1" height="7" fill="#c0c0c0"/>
<rect x="12" y="709" width="1" height="1" fill="#c0c0c0"/>
<rect x="20" y="704" width="1" height="5" fill="#c0c0c0"/>
<rect x="28" y="702" width="1" height="7" fill="#c0c0c0"/>
<rect x="36" y="701" width="1" height="8" fill="#c0c0c0"/>
<rect x="44" y="703" width="1" height="6" fill="#c0c0c0"/>
<rect x="52" y="702" width="1" height="7" fill="#c0c0c0"/>
<rect x="60" y="701" width="1" height="8" fill="#c0c0c0"/>
<rect x="68" y="700" width="1" height="9" fill="#c0c0c0"/>
<rect x="76" y="699" width="1" height="10" fill="#c0c0c0"/>
<rect x="84" y="697" width="1" height="12" fill="#c0c0c0"/>
<rect x="92" y="695" width="1" height="14" fill="#c0c0c0"/>
<rect x="100" y="696" width="1" height="13" fill="#c0c0c0"/>
<rect x="108" y="695" width="1" height="14" fill="#c0c0c0"/>
<rect x="116" y="695" width="1" height="14" fill="#c0c0c0"/>
<rect x="124" y="697" width="1" height="12" fill="#c0c0c0"/>
<rect x="132" y="696" width="1" height="13" fill="#c0c0c0"/>
<rect x="140" y="694" width="1" height="15" fill="#c0c0c0"/>
<rect x="148" y="693" width="1" height="16" fill="#c0c0c0"/>
<rect x="156" y="691" width="1" height="18" fill="#c0c0c0"/>
<rect x="164" y="688" width="1" height="21" fill="#c0c0c0"/>
<rect x="172" y="686" width="1" height="23" fill="#c0c0c0"/>
<rect x="180" y="682" width="1" height="27" fill="#c0c0c0"/>
<rect x="188" y="677" width="1" height="32" fill="#c0c0c0"/>
<rect x="196" y="670" width="1" height="39" fill="#c0c0c0"/>
<rect x="204" y="666" width="1" height="43" fill="#c0c0c0"/>
<rect x="212" y="663" width="1" height="46" fill="#c0c0c0"/>
<rect x="220" y="662" width="1" height="47" fill="#c0c0c0"/>
<rect x="228" y="662" width="1" height="47" fill="#c0c0c0"/>
<rect x="236" y="664" width="1" height="45" fill="#c0c0c0"/>
<rect x="244" y="664" width="1" height="45" fill="#c0c0c0"/>
<rect x="252" y="666" width="1" height="43" fill="#c0c0c0"/>
<rect x="260" y="667" width="1" height="42" fill="#c0c0c0"/>
<rect x="268" y="668" width="1" height="41" fill="#c0c0c0"/>
<rect x="276" y="669" width="1" height="40" fill="#c0c0c0"/>
<rect x="284" y="668" width="1" height="41" fill="#c0c0c0"/>
<rect x="292" y="665" width="1" height="44" fill="#c0c0c0"/>
<rect x="300" y="664" width="1" height="45" fill="#c0c0c0"/>
<rect x="308" y="663" width="1" height="46" fill="#c0c0c0"/>
<rect x="316" y="664" width="1" height="45" fill="#c0c0c0"/>
<rect x="324" y="667" width="1" height="42" fill="#c0c0c0"/>
<rect x="332" y="670" width="1" height="39" fill="#c0c0c0"/>
<rect x="340" y="672" width="1" height="37" fill="#c0c0c0"/>
<rect x="348" y="675" width="1" height="34" fill="#c0c0c0"/>
<rect x="356" y="675" width="1" height="34" fill="#c0c0c0"/>
<rect x="364" y="675" width="1" height="34" fill="#c0c0c0"/>
<rect x="372" y="673" width="1" height="36" fill="#c0c0c0"/>
<rect x="380" y="674" width="1" height="35" fill="#c0c0c0"/>
<rect x="388" y="677" width="1" height="32" fill="#c0c0c0"/>
<rect x="396" y="676" width="1" height="33" fill="#c0c0c0"/>
<rect x="404" y="677" width="1" height="32" fill="#c0c0c0"/>
<rect x="412" y="677" width="1" height="32" fill="#c0c0c0"/>
<rect x="420" y="678" width="1" height="31" fill="#c0c0c0"/>
<rect x="428" y="680" width="1" height="29" fill="#c0c0c0"/>
<rect x="436" y="683" width="1" height="26" fill="#c0c0c0"/>
<rect x="444" y="689" width="1" height="20" fill="#c0c0c0"/>
<rect x="452" y="693" width="1" height="16" fill="#c0c0c0"/>
<rect x="460" y="696" width="1" height="13" fill="#c0c0c0"/>
<rect x="468" y="700" width="1" height="9" fill="#c0c0c0"/>
<rect x="476" y="705" width="1" height="4" fill="#c0c0c0"/>
<rect x="484" y="709" width="1" height="2" fill="#c0c0c0"/>
<rect x="492" y="709" width="1" height="5" fill="#c0c0c0"/>
<rect x="500" y="709" width="1" height="6" fill="#c0c0c0"/>
<rect x="508" y="709" width="1" height="7" fill="#c0c0c0"/>
<rect x="516" y="709" width="1" height="6" fill="#c0c0c0"/>
<rect x="524" y="709" width="1" height="5" fill="#c0c0c0"/>
<rect x="532" y="709" width="1" height="3" fill="#c0c0c0"/>
<rect x="540" y="709" width="1" height="4" fill="#c0c0c0"/>
<rect x="548" y="709" width="1" height="3" fill="#c0c0c0"/>
<rect x="556" y="709" width="1" height="5" fill="#c0c0c0"/>
<rect x="564" y="709" width="1" height="5" fill="#c0c0c0"/>
<rect x="572" y="709" width="1" height="5" fill="#c0c0c0"/>
<rect x="580" y="709" width="1" height="5" fill="#c0c0c0"/>
<rect x="588" y="709" width="1" height="7" fill="#c0c0c0"/>
<rect x="596" y="709" width="1" height="10" fill="#c0c0c0"/>
<rect x="604" y="709" width="1" height="14" fill="#c0c0c0"/>
<rect x="612" y="709" width="1" height="18" fill="#c0c0c0"/>
<rect x="620" y="709" width="1" height="19" fill="#c0c0c0"/>
<rect x="628" y="709" width="1" height="19" fill="#c0c0c0"/>
<rect x="636" y="709" width="1" height="18" fill="#c0c0c0"/>
<rect x="644" y="709" width="1" height="15" fill="#c0c0c0"/>
<rect x="652" y="709" width="1" height="12" fill="#c0c0c0"/>
<rect x="660" y="709" width="1" height="9" fill="#c0c0c0"/>
<rect x="668" y="709" width="1" height="7" fill="#c0c0c0"/>
<rect x="676" y="709" width="1" height="5" fill="#c0c0c0"/>
<rect x="684" y="709" width="1" height="3" fill="#c0c0c0"/>
<rect x="692" y="709" width="1" height="2" fill="#c0c0c0"/>
<rect x="700" y="709" width="1" height="5" fill="#c0c0c0"/>
<rect x="708" y="709" width="1" height="5" fill="#c0c0c0"/>
<rect x="716" y="709" width="1" height="3" fill="#c0c0c0"/>
<rect x="724" y="709" width="1" height="2" fill="#c0c0c0"/>
<rect x="732" y="709" width="1" height="1" fill="#c0c0c0"/>
<rect x="740" y="706" width="1" height="3" fill="#c0c0c0"/>
<rect x="748" y="706" width="1" height="3" fill="#c0c0c0"/>
<rect x="756" y="701" width="1" height="8" fill="#c0c0c0"/>
<rect x="764" y="702" width="1" height="7" fill="#c0c0c0"/>
<rect x="772" y="704" width="1" height="5" fill="#c0c0c0"/>
<rect x="780" y="708" width="1" height="1" fill="#c0c0c0"/>
<rect x="788" y="709" width="1" height="2" fill="#c0c0c0"/>
<rect x="796" y="709" width="1" height="3" fill="#c0c0c0"/>
<rect x="804" y="709" width="1" height="5" fill="#c0c0c0"/>
<rect x="812" y="709" width="1" height="13" fill="#c0c0c0"/>
<rect x="820" y="709" width="1" height="18" fill="#c0c0c0"/>
<rect x="828" y="709" width="1" height="25" fill="#c0c0c0"/>
<rect x="836" y="709" width="1" height="28" fill="#c0c0c0"/>
<rect x="844" y="709" width="1" height="30" fill="#c0c0c0"/>
<rect x="852" y="709" width="1" height="28" fill="#c0c0c0"/>
<rect x="860" y="709" width="1" height="28" fill="#c0c0c0"/>
<rect x="868" y="709" width="1" height="27" fill="#c0c0c0"/>
<rect x="876" y="709" width="1" height="27" fill="#c0c0c0"/>
<rect x="884" y="709" width="1" height="28" fill="#c0c0c0"/>
<rect x="892" y="709" width="1" height="27" fill="#c0c0c0"/>
<rect x="900" y="709" width="1" height="26" fill="#c0c0c0"/>
<rect x="908" y="709" width="1" height="25" fill="#c0c0c0"/>
<rect x="916" y="709" width="1" height="25" fill="#c0c0c0"/>
<rect x="924" y="709" width="1" height="23" fill="#c0c0c0"/>
<rect x="932" y="709" width="1" height="24" fill="#c0c0c0"/>
<rect x="940" y="709" width="1" height="26" fill="#c0c0c0"/>
<rect x="948" y="709" width="1" height="29" fill="#c0c0c0"/>
<rect x="956" y="709" width="1" height="31" fill="#c0c0c0"/>
<rect x="964" y="709" width="1" height="32" fill="#c0c0c0"/>
<rect x="972" y="709" width="1" height="33" fill="#c0c0c0"/>
<rect x="980" y="709" width="1" height="36" fill="#c0c0c0"/>
<rect x="988" y="709" width="1" height="37" fill="#c0c0c0"/>
<rect x="996" y="709" width="1" height="36" fill="#c0c0c0"/>
<rect x="1004" y="709" width="1" height="35" fill="#c0c0c0"/>
<rect x="1012" y="709" width="1" height="34" fill="#c0c0c0"/>
<rect x="1020" y="709" width="1" height="31" fill="#c0c0c0"/>
<rect x="1028" y="709" width="1" height="26" fill="#c0c0c0"/>
<rect x="1036" y="709" width="1" height="21" fill="#c0c0c0"/>
<rect x="1044" y="709" width="1" height="16" fill="#c0c0c0"/>
<rect x="1052" y="709" width="1" height="12" fill="#c0c0c0"/>
<rect x="1060" y="709" width="1" height="9" fill="#c0c0c0"/>
<rect x="1068" y="709" width="1" height="6" fill="#c0c0c0"/>
<rect x="1076" y="709" width="1" height="2" fill="#c0c0c0"/>
<rect x="1084" y="706" width="1" height="3" fill="#c0c0c0"/>
<rect x="1092" y="703" width="1" height="6" fill="#c0c0c0"/>
<rect x="1100" y="700" width="1" height="9" fill="#c0c0c0"/>
<rect x="1108" y="697" width="1" height="12" fill="#c0c0c0"/>
<rect x="1116" y="694" width="1" height="15" fill="#c0c0c0"/>
<rect x="1124" y="690" width="1" height="19" fill="#c0c0c0"/>
<rect x="1132" y="688" width="1" height="21" fill="#c0c0c0"/>
<rect x="1140" y="688" width="1" height="21" fill="#c0c0c0"/>
<rect x="1148" y="685" width="1" height="24" fill="#c0c0c0"/>
<rect x="1156" y="683" width="1" height="26" fill="#c0c0c0"/>
<rect x="1164" y="681" width="1" height="28" fill="#c0c0c0"/>
<rect x="1172" y="681" width="1" height="28" fill="#c0c0c0"/>
<rect x="1180" y="680" width="1" height="29" fill="#c0c0c0"/>
<rect x="1188" y="679" width="1" height="30" fill="#c0c0c0"/>
<rect x="1196" y="681" width="1" height="28" fill="#c0c0c0"/>
<rect x="1204" y="684" width="1" height="25" fill="#c0c0c0"/>
<rect x="1212" y="686" width="1" height="23" fill="#c0c0c0"/>
<rect x="1220" y="688" width="1" height="21" fill="#c0c0c0"/>
<rect x="1228" y="691" width="1" height="18" fill="#c0c0c0"/>
<rect x="1236" y="692" width="1" height="17" fill="#c0c0c0"/>
<rect x="1244" y="692" width="1" height="17" fill="#c0c0c0"/>
<path d="M256 665h3v1h-3zM262 665h3v1h-3zM268 665h3v1h-3zM274 665h3v1h-3zM250 666h3v1h-3zM280 666h3v1h-3zM286 666h3v1h-3zM292 666h3v1h-3zM298 666h3v1h-3zM304 666h3v1h-3zM310 666h3v1h-3zM316 666h3v1h-3zM322 666h3v1h-3zM328 666h3v1h-3zM334 666h2v1h-2zM246 667h1v1h-1zM336 667h1v1h-1zM340 667h3v1h-3zM244 668h2v1h-2zM346 668h3v1h-3zM352 668h3v1h-3zM238 669h3v1h-3zM358 669h3v1h-3zM364 670h3v1h-3zM232 671h3v1h-3zM370 671h3v1h-3zM376 672h3v1h-3zM382 672h2v1h-2zM227 673h2v1h-2zM384 673h1v1h-1zM388 673h3v1h-3zM226 674h1v1h-1zM394 674h3v1h-3zM222 675h1v1h-1zM400 675h3v1h-3zM406 675h3v1h-3zM412 675h3v1h-3zM220 676h2v1h-2zM418 676h3v1h-3zM424 676h3v1h-3zM430 676h2v1h-2zM432 677h1v1h-1zM436 677h2v1h-2zM215 678h2v1h-2zM438 678h1v1h-1zM214 679h1v1h-1zM442 679h3v1h-3zM448 680h2v1h-2zM208 681h3v1h-3zM450 681h1v1h-1zM454 682h3v1h-3zM1200 682h1v1h-1zM1204 682h3v1h-3zM1210 682h3v1h-3zM203 683h2v1h-2zM460 683h2v1h-2zM1192 683h3v1h-3zM1198 683h2v1h-2zM1216 683h3v1h-3zM1222 683h3v1h-3zM1228 683h2v1h-2zM202 684h1v1h-1zM462 684h1v1h-1zM1186 684h3v1h-3zM1230 684h1v1h-1zM198 685h1v1h-1zM466 685h1v1h-1zM1182 685h1v1h-1zM1234 685h3v1h-3zM196 686h2v1h-2zM467 686h2v1h-2zM1180 686h2v1h-2zM1240 686h3v1h-3zM192 687h1v1h-1zM1174 687h3v1h-3zM190 688h2v1h-2zM472 688h3v1h-3zM1170 688h1v1h-1zM186 689h1v1h-1zM1168 689h2v1h-2zM184 690h2v1h-2zM478 690h1v1h-1zM1162 690h3v1h-3zM178 691h3v1h-3zM479 691h2v1h-2zM1158 691h1v1h-1zM174 692h1v1h-1zM1156 692h2v1h-2zM168 693h1v1h-1zM172 693h2v1h-2zM484 693h1v1h-1zM1152 693h1v1h-1zM160 694h3v1h-3zM166 694h2v1h-2zM485 694h2v1h-2zM1150 694h2v1h-2zM144 695h1v1h-1zM148 695h3v1h-3zM154 695h3v1h-3zM1146 695h1v1h-1zM136 696h3v1h-3zM142 696h2v1h-2zM490 696h1v1h-1zM1144 696h2v1h-2zM120 697h1v1h-1zM124 697h3v1h-3zM130 697h3v1h-3zM491 697h2v1h-2zM1139 697h2v1h-2zM112 698h3v1h-3zM118 698h2v1h-2zM1138 698h1v1h-1zM96 699h1v1h-1zM100 699h3v1h-3zM106 699h3v1h-3zM496 699h3v1h-3zM1134 699h1v1h-1zM88 700h3v1h-3zM94 700h2v1h-2zM1132 700h2v1h-2zM82 701h3v1h-3zM502 701h1v1h-1zM1128 701h1v1h-1zM76 702h3v1h-3zM503 702h2v1h-2zM1126 702h2v1h-2zM70 703h3v1h-3zM66 704h1v1h-1zM508 704h2v1h-2zM1121 704h2v1h-2zM64 705h2v1h-2zM510 705h1v1h-1zM1120 705h1v1h-1zM58 706h3v1h-3zM514 706h1v1h-1zM778 706h3v1h-3zM784 706h3v1h-3zM790 706h3v1h-3zM796 706h3v1h-3zM54 707h1v1h-1zM515 707h2v1h-2zM768 707h1v1h-1zM772 707h3v1h-3zM802 707h3v1h-3zM1115 707h2v1h-2zM52 708h2v1h-2zM520 708h2v1h-2zM760 708h3v1h-3zM766 708h2v1h-2zM808 708h3v1h-3zM1114 708h1v1h-1zM48 709h1v1h-1zM522 709h1v1h-1zM754 709h3v1h-3zM814 709h2v1h-2zM1110 709h1v1h-1zM46 710h2v1h-2zM526 710h3v1h-3zM744 710h1v1h-1zM748 710h3v1h-3zM816 710h1v1h-1zM1108 710h2v1h-2zM40 711h3v1h-3zM532 711h3v1h-3zM736 711h3v1h-3zM742 711h2v1h-2zM820 711h2v1h-2zM1104 711h1v1h-1zM34 712h3v1h-3zM538 712h3v1h-3zM730 712h3v1h-3zM822 712h1v1h-1zM1102 712h2v1h-2zM4 713h3v1h-3zM24 713h1v1h-1zM28 713h3v1h-3zM544 713h3v1h-3zM550 713h3v1h-3zM556 713h3v1h-3zM562 713h3v1h-3zM568 713h3v1h-3zM574 713h3v1h-3zM580 713h3v1h-3zM586 713h3v1h-3zM592 713h3v1h-3zM598 713h2v1h-2zM720 713h1v1h-1zM724 713h3v1h-3zM826 713h1v1h-1zM10 714h3v1h-3zM16 714h3v1h-3zM22 714h2v1h-2zM600 714h1v1h-1zM604 714h2v1h-2zM712 714h3v1h-3zM718 714h2v1h-2zM827 714h2v1h-2zM1097 714h2v1h-2zM606 715h1v1h-1zM706 715h3v1h-3zM1096 715h1v1h-1zM610 716h3v1h-3zM700 716h3v1h-3zM832 716h1v1h-1zM616 717h2v1h-2zM694 717h3v1h-3zM833 717h2v1h-2zM1091 717h2v1h-2zM618 718h1v1h-1zM622 718h2v1h-2zM690 718h1v1h-1zM1090 718h1v1h-1zM624 719h1v1h-1zM628 719h2v1h-2zM688 719h2v1h-2zM838 719h1v1h-1zM630 720h1v1h-1zM682 720h3v1h-3zM839 720h2v1h-2zM1085 720h2v1h-2zM634 721h3v1h-3zM672 721h1v1h-1zM676 721h3v1h-3zM1084 721h1v1h-1zM640 722h3v1h-3zM646 722h2v1h-2zM664 722h3v1h-3zM670 722h2v1h-2zM844 722h2v1h-2zM648 723h1v1h-1zM652 723h3v1h-3zM658 723h3v1h-3zM846 723h1v1h-1zM1079 723h2v1h-2zM850 724h1v1h-1zM1078 724h1v1h-1zM851 725h2v1h-2zM1073 726h2v1h-2zM856 727h3v1h-3zM1072 727h1v1h-1zM862 729h3v1h-3zM1067 729h2v1h-2zM868 730h2v1h-2zM1066 730h1v1h-1zM870 731h1v1h-1zM1062 731h1v1h-1zM874 732h1v1h-1zM1060 732h2v1h-2zM875 733h2v1h-2zM880 734h2v1h-2zM922 734h3v1h-3zM928 734h3v1h-3zM934 734h3v1h-3zM940 734h3v1h-3zM946 734h3v1h-3zM952 734h3v1h-3zM958 734h2v1h-2zM1055 734h2v1h-2zM882 735h1v1h-1zM886 735h2v1h-2zM904 735h3v1h-3zM910 735h3v1h-3zM916 735h3v1h-3zM960 735h1v1h-1zM964 735h3v1h-3zM970 735h3v1h-3zM1054 735h1v1h-1zM888 736h1v1h-1zM892 736h3v1h-3zM898 736h3v1h-3zM976 736h2v1h-2zM1050 736h1v1h-1zM978 737h1v1h-1zM982 737h2v1h-2zM1048 737h2v1h-2zM984 738h1v1h-1zM988 738h2v1h-2zM1042 738h3v1h-3zM990 739h1v1h-1zM1038 739h1v1h-1zM994 740h3v1h-3zM1032 740h1v1h-1zM1036 740h2v1h-2zM1000 741h3v1h-3zM1006 741h2v1h-2zM1024 741h3v1h-3zM1030 741h2v1h-2zM1008 742h1v1h-1zM1012 742h3v1h-3zM1018 742h3v1h-3z" fill="#ff0000"/>
</g>
<rect x="3" y="28" width="1578" height="1" fill="#000"/>
<rect x="3" y="555" width="1578" height="1" fill="#000"/>
<rect x="3" y="28" width="1" height="528" fill="#000"/>
<rect x="1580" y="28" width="1" height="528" fill="#000"/>
<rect x="3" y="557" width="1578" height="1" fill="#000"/>
<rect x="3" y="653" width="1578" height="1" fill="#000"/>
<rect x="3" y="557" width="1" height="97" fill="#000"/>
<rect x="1580" y="557" width="1" height="97" fill="#000"/>
<rect x="3" y="655" width="1578" height="1" fill="#000"/>
<rect x="3" y="751" width="1578" height="1" fill="#000"/>
<rect x="3" y="655" width="1" height="97" fill="#000"/>
<rect x="1580" y="655" width="1" height="97" fill="#000"/>
<rect x="3" y="161" width="6" height="6" fill="#ff4500"/>
<rect x="5" y="163" width="2" height="2" fill="#ffffff"/>
<rect x="3" y="225" width="6" height="6" fill="#ff0000"/>
<rect x="5" y="227" width="2" height="2" fill="#ffffff"/>
<rect x="3" y="312" width="6" height="6" fill="#00ff00"/>
<rect x="5" y="314" width="2" height="2" fill="#ffffff"/>
<rect x="3" y="386" width="6" height="6" fill="#0000ff"/>
<rect x="5" y="388" width="2" height="2" fill="#ffffff"/>
<rect x="3" y="536" width="6" height="6" fill="#0000ff"/>
<rect x="5" y="538" width="2" height="2" fill="#ffffff"/>
<rect x="1581" y="57" width="3" height="1" fill="#000"/>
<text transform="matrix(0.91 0 0 1 1586.3 61.4)" fill="#000" stroke="#000" stroke-width="0.22" style="font-family:'Liberation Sans',Arial,sans-serif;font-size:10px">1.23440</text>
<rect x="1581" y="123" width="3" height="1" fill="#000"/>
<text transform="matrix(0.91 0 0 1 1586.3 127.4)" fill="#000" stroke="#000" stroke-width="0.22" style="font-family:'Liberation Sans',Arial,sans-serif;font-size:10px">1.22560</text>
<rect x="1581" y="156" width="3" height="1" fill="#000"/>
<text transform="matrix(0.91 0 0 1 1586.3 160.4)" fill="#000" stroke="#000" stroke-width="0.22" style="font-family:'Liberation Sans',Arial,sans-serif;font-size:10px">1.22120</text>
<rect x="1581" y="189" width="3" height="1" fill="#000"/>
<text transform="matrix(0.91 0 0 1 1586.3 193.4)" fill="#000" stroke="#000" stroke-width="0.22" style="font-family:'Liberation Sans',Arial,sans-serif;font-size:10px">1.21680</text>
<rect x="1581" y="222" width="3" height="1" fill="#000"/>
<text transform="matrix(0.91 0 0 1 1586.3 226.4)" fill="#000" stroke="#000" stroke-width="0.22" style="font-family:'Liberation Sans',Arial,sans-serif;font-size:10px">1.21240</text>
<rect x="1581" y="255" width="3" height="1" fill="#000"/>
<text transform="matrix(0.91 0 0 1 1586.3 259.4)" fill="#000" stroke="#000" stroke-width="0.22" style="font-family:'Liberation Sans',Arial,sans-serif;font-size:10px">1.20800</text>
<rect x="1581" y="288" width="3" height="1" fill="#000"/>
<text transform="matrix(0.91 0 0 1 1586.3 292.4)" fill="#000" stroke="#000" stroke-width="0.22" style="font-family:'Liberation Sans',Arial,sans-serif;font-size:10px">1.20360</text>
<rect x="1581" y="321" width="3" height="1" fill="#000"/>
<text transform="matrix(0.91 0 0 1 1586.3 325.4)" fill="#000" stroke="#000" stroke-width="0.22" style="font-family:'Liberation Sans',Arial,sans-serif;font-size:10px">1.19920</text>
<rect x="1581" y="354" width="3" height="1" fill="#000"/>
<text transform="matrix(0.91 0 0 1 1586.3 358.4)" fill="#000" stroke="#000" stroke-width="0.22" style="font-family:'Liberation Sans',Arial,sans-serif;font-size:10px">1.19480</text>
<rect x="1581" y="420" width="3" height="1" fill="#000"/>
<text transform="matrix(0.91 0 0 1 1586.3 424.4)" fill="#000" stroke="#000" stroke-width="0.22" style="font-family:'Liberation Sans',Arial,sans-serif;font-size:10px">1.18590</text>
<rect x="1581" y="453" width="3" height="1" fill="#000"/>
<text transform="matrix(0.91 0 0 1 1586.3 457.4)" fill="#000" stroke="#000" stroke-width="0.22" style="font-family:'Liberation Sans',Arial,sans-serif;font-size:10px">1.18150</text>
<rect x="1581" y="486" width="3" height="1" fill="#000"/>
<text transform="matrix(0.91 0 0 1 1586.3 490.4)" fill="#000" stroke="#000" stroke-width="0.22" style="font-family:'Liberation Sans',Arial,sans-serif;font-size:10px">1.17710</text>
<rect x="1581" y="519" width="3" height="1" fill="#000"/>
<text transform="matrix(0.91 0 0 1 1586.3 523.4)" fill="#000" stroke="#000" stroke-width="0.22" style="font-family:'Liberation Sans',Arial,sans-serif;font-size:10px">1.17270</text>
<rect x="1581" y="552" width="3" height="1" fill="#000"/>
<text transform="matrix(0.91 0 0 1 1586.3 556.4)" fill="#000" stroke="#000" stroke-width="0.22" style="font-family:'Liberation Sans',Arial,sans-serif;font-size:10px">1.16830</text>
<rect x="1582" y="83" width="41" height="11" fill="#ff4500"/>
<text transform="matrix(0.91 0 0 1 1586.3 92.4)" fill="#ffffff" stroke="#ffffff" stroke-width="0.22" style="font-family:'Liberation Sans',Arial,sans-serif;font-size:10px">1.23019</text>
<rect x="1582" y="158" width="41" height="11" fill="#ff4500"/>
<text transform="matrix(0.91 0 0 1 1586.3 167.4)" fill="#ffffff" stroke="#ffffff" stroke-width="0.22" style="font-family:'Liberation Sans',Arial,sans-serif;font-size:10px">1.22010</text>
<rect x="1582" y="222" width="41" height="11" fill="#ff0000"/>
<text transform="matrix(0.91 0 0 1 1586.3 231.4)" fill="#ffffff" stroke="#ffffff" stroke-width="0.22" style="font-family:'Liberation Sans',Arial,sans-serif;font-size:10px">1.21155</text>
<rect x="1582" y="262" width="41" height="11" fill="#000000"/>
<text transform="matrix(0.91 0 0 1 1586.3 271.4)" fill="#ffffff" stroke="#ffffff" stroke-width="0.22" style="font-family:'Liberation Sans',Arial,sans-serif;font-size:10px">1.20642</text>
<rect x="1582" y="309" width="41" height="11" fill="#00ff00"/>
<text transform="matrix(0.91 0 0 1 1586.3 318.4)" fill="#ffffff" stroke="#ffffff" stroke-width="0.22" style="font-family:'Liberation Sans',Arial,sans-serif;font-size:10px">1.19992</text>
<rect x="1582" y="383" width="41" height="11" fill="#0000ff"/>
<text transform="matrix(0.91 0 0 1 1586.3 392.4)" fill="#ffffff" stroke="#ffffff" stroke-width="0.22" style="font-family:'Liberation Sans',Arial,sans-serif;font-size:10px">1.19015</text>
<rect x="1582" y="459" width="41" height="11" fill="#0000ff"/>
<text transform="matrix(0.91 0 0 1 1586.3 468.4)" fill="#ffffff" stroke="#ffffff" stroke-width="0.22" style="font-family:'Liberation Sans',Arial,sans-serif;font-size:10px">1.17998</text>
<rect x="1582" y="533" width="41" height="11" fill="#0000ff"/>
<text transform="matrix(0.91 0 0 1 1586.3 542.4)" fill="#ffffff" stroke="#ffffff" stroke-width="0.22" style="font-family:'Liberation Sans',Arial,sans-serif;font-size:10px">1.17012</text>
<rect x="1581" y="559" width="2" height="1" fill="#000"/>
<text transform="matrix(0.91 0 0 1 1584.5 568)" fill="#000" stroke="#000" stroke-width="0.22" style="font-family:'Liberation Sans',Arial,sans-serif;font-size:10px">100</text>
<text transform="matrix(0.91 0 0 1 1584.5 591)" fill="#000" stroke="#000" stroke-width="0.22" style="font-family:'Liberation Sans',Arial,sans-serif;font-size:10px">70</text>
<text transform="matrix(0.91 0 0 1 1584.5 627.6)" fill="#000" stroke="#000" stroke-width="0.22" style="font-family:'Liberation Sans',Arial,sans-serif;font-size:10px">30</text>
<rect x="1581" y="652" width="2" height="1" fill="#000"/>
<text transform="matrix(0.91 0 0 1 1584.5 649.6)" fill="#000" stroke="#000" stroke-width="0.22" style="font-family:'Liberation Sans',Arial,sans-serif;font-size:10px">0</text>
<rect x="1581" y="657" width="2" height="1" fill="#000"/>
<rect x="1581" y="708" width="2" height="1" fill="#000"/>
<rect x="1581" y="750" width="2" height="1" fill="#000"/>
<text transform="matrix(0.91 0 0 1 1584.5 665.4)" fill="#000" stroke="#000" stroke-width="0.22" style="font-family:'Liberation Sans',Arial,sans-serif;font-size:10px">0.009478</text>
<text transform="matrix(0.91 0 0 1 1584.5 711.6)" fill="#000" stroke="#000" stroke-width="0.22" style="font-family:'Liberation Sans',Arial,sans-serif;font-size:10px">0.00</text>
<text transform="matrix(0.91 0 0 1 1584.5 747.6)" fill="#000" stroke="#000" stroke-width="0.22" style="font-family:'Liberation Sans',Arial,sans-serif;font-size:10px">-0.007778</text>
<rect x="4" y="752" width="1" height="3" fill="#000"/>
<text transform="matrix(0.965 0 0 1 3 764.4)" fill="#000" stroke="#000" stroke-width="0.22" style="font-family:'Liberation Sans',Arial,sans-serif;font-size:10px">5 Nov 2020</text>
<rect x="68" y="752" width="1" height="3" fill="#000"/>
<text transform="matrix(0.965 0 0 1 67 764.4)" fill="#000" stroke="#000" stroke-width="0.22" style="font-family:'Liberation Sans',Arial,sans-serif;font-size:10px">14 Nov 2020</text>
<rect x="132" y="752" width="1" height="3" fill="#000"/>
<text transform="matrix(0.965 0 0 1 131 764.4)" fill="#000" stroke="#000" stroke-width="0.22" style="font-family:'Liberation Sans',Arial,sans-serif;font-size:10px">24 Nov 2020</text>
<rect x="196" y="752" width="1" height="3" fill="#000"/>
<text transform="matrix(0.965 0 0 1 195 764.4)" fill="#000" stroke="#000" stroke-width="0.22" style="font-family:'Liberation Sans',Arial,sans-serif;font-size:10px">3 Dec 2020</text>
<rect x="260" y="752" width="1" height="3" fill="#000"/>
<text transform="matrix(0.965 0 0 1 259 764.4)" fill="#000" stroke="#000" stroke-width="0.22" style="font-family:'Liberation Sans',Arial,sans-serif;font-size:10px">12 Dec 2020</text>
<rect x="324" y="752" width="1" height="3" fill="#000"/>
<text transform="matrix(0.965 0 0 1 323 764.4)" fill="#000" stroke="#000" stroke-width="0.22" style="font-family:'Liberation Sans',Arial,sans-serif;font-size:10px">22 Dec 2020</text>
<rect x="388" y="752" width="1" height="3" fill="#000"/>
<text transform="matrix(0.965 0 0 1 387 764.4)" fill="#000" stroke="#000" stroke-width="0.22" style="font-family:'Liberation Sans',Arial,sans-serif;font-size:10px">1 Jan 2021</text>
<rect x="452" y="752" width="1" height="3" fill="#000"/>
<text transform="matrix(0.965 0 0 1 451 764.4)" fill="#000" stroke="#000" stroke-width="0.22" style="font-family:'Liberation Sans',Arial,sans-serif;font-size:10px">12 Jan 2021</text>
<rect x="516" y="752" width="1" height="3" fill="#000"/>
<text transform="matrix(0.965 0 0 1 515 764.4)" fill="#000" stroke="#000" stroke-width="0.22" style="font-family:'Liberation Sans',Arial,sans-serif;font-size:10px">21 Jan 2021</text>
<rect x="580" y="752" width="1" height="3" fill="#000"/>
<text transform="matrix(0.965 0 0 1 579 764.4)" fill="#000" stroke="#000" stroke-width="0.22" style="font-family:'Liberation Sans',Arial,sans-serif;font-size:10px">30 Jan 2021</text>
<rect x="644" y="752" width="1" height="3" fill="#000"/>
<text transform="matrix(0.965 0 0 1 643 764.4)" fill="#000" stroke="#000" stroke-width="0.22" style="font-family:'Liberation Sans',Arial,sans-serif;font-size:10px">9 Feb 2021</text>
<rect x="708" y="752" width="1" height="3" fill="#000"/>
<text transform="matrix(0.965 0 0 1 707 764.4)" fill="#000" stroke="#000" stroke-width="0.22" style="font-family:'Liberation Sans',Arial,sans-serif;font-size:10px">18 Feb 2021</text>
<rect x="772" y="752" width="1" height="3" fill="#000"/>
<text transform="matrix(0.965 0 0 1 771 764.4)" fill="#000" stroke="#000" stroke-width="0.22" style="font-family:'Liberation Sans',Arial,sans-serif;font-size:10px">27 Feb 2021</text>
<rect x="836" y="752" width="1" height="3" fill="#000"/>
<text transform="matrix(0.965 0 0 1 835 764.4)" fill="#000" stroke="#000" stroke-width="0.22" style="font-family:'Liberation Sans',Arial,sans-serif;font-size:10px">9 Mar 2021</text>
<rect x="900" y="752" width="1" height="3" fill="#000"/>
<text transform="matrix(0.965 0 0 1 899 764.4)" fill="#000" stroke="#000" stroke-width="0.22" style="font-family:'Liberation Sans',Arial,sans-serif;font-size:10px">18 Mar 2021</text>
<rect x="964" y="752" width="1" height="3" fill="#000"/>
<text transform="matrix(0.965 0 0 1 963 764.4)" fill="#000" stroke="#000" stroke-width="0.22" style="font-family:'Liberation Sans',Arial,sans-serif;font-size:10px">27 Mar 2021</text>
<rect x="1028" y="752" width="1" height="3" fill="#000"/>
<text transform="matrix(0.965 0 0 1 1027 764.4)" fill="#000" stroke="#000" stroke-width="0.22" style="font-family:'Liberation Sans',Arial,sans-serif;font-size:10px">6 Apr 2021</text>
<rect x="1092" y="752" width="1" height="3" fill="#000"/>
<text transform="matrix(0.965 0 0 1 1091 764.4)" fill="#000" stroke="#000" stroke-width="0.22" style="font-family:'Liberation Sans',Arial,sans-serif;font-size:10px">15 Apr 2021</text>
<rect x="1156" y="752" width="1" height="3" fill="#000"/>
<text transform="matrix(0.965 0 0 1 1155 764.4)" fill="#000" stroke="#000" stroke-width="0.22" style="font-family:'Liberation Sans',Arial,sans-serif;font-size:10px">24 Apr 2021</text>
<rect x="1220" y="752" width="1" height="3" fill="#000"/>
<text transform="matrix(0.965 0 0 1 1219 764.4)" fill="#000" stroke="#000" stroke-width="0.22" style="font-family:'Liberation Sans',Arial,sans-serif;font-size:10px">4 May 2021</text>
<path d="M7 34.5 L14.5 34.5 L10.75 38.8 Z" fill="#000"/>
<text transform="matrix(0.94 0 0 1 19 40)" fill="#000" stroke="#000" stroke-width="0.22" style="font-family:'Liberation Sans',Arial,sans-serif;font-size:10px">EURUSD,Daily</text>
<text transform="matrix(0.93 0 0 1 89.3 40)" fill="#000" stroke="#000" stroke-width="0.22" style="font-family:'Liberation Sans',Arial,sans-serif;font-size:10px">1.20483 1.20690 1.20433 1.20642</text>
<text transform="matrix(0.94 0 0 1 7.8 570)" fill="#000" stroke="#000" stroke-width="0.22" style="font-family:'Liberation Sans',Arial,sans-serif;font-size:10px">RSI(14) 58.1514</text>
<text transform="matrix(0.955 0 0 1 7.8 668)" fill="#000" stroke="#000" stroke-width="0.22" style="font-family:'Liberation Sans',Arial,sans-serif;font-size:10px">MACD(12,26,9) 0.003017 0.004166</text>
<rect x="0" y="772" width="1623" height="1" fill="#e3e3e3"/>
<rect x="0" y="773" width="1623" height="24" fill="#f0f0f0"/>
<rect x="0" y="774" width="1623" height="1" fill="#000"/>
<rect x="0" y="775" width="1623" height="1" fill="#fafafa"/>
<rect x="0" y="774" width="1" height="19" fill="#8a8a8a"/>
<rect x="0" y="793" width="1623" height="1" fill="#fbfbfb"/>
<rect x="5" y="774" width="104" height="19" fill="#000"/>
<rect x="6" y="773" width="102" height="19" fill="#ffffff"/>
<rect x="109" y="775" width="1" height="18" fill="#fafafa"/>
<text x="17.0" y="788.6" fill="#000" stroke="#000" stroke-width="0.1" style="font-family:'Liberation Sans',Arial,sans-serif;font-size:11.6px" textLength="80.0" lengthAdjust="spacingAndGlyphs">EURUSD,Daily</text>
<text x="119.0" y="788.6" fill="#6e6e6e" stroke="#6e6e6e" stroke-width="0.05" style="font-family:'Liberation Sans',Arial,sans-serif;font-size:11.6px" textLength="79.5" lengthAdjust="spacingAndGlyphs">USDCHF,Daily</text>
<rect x="209" y="777" width="1" height="13" fill="#6e6e6e"/>
<text x="219.8" y="788.6" fill="#6e6e6e" stroke="#6e6e6e" stroke-width="0.05" style="font-family:'Liberation Sans',Arial,sans-serif;font-size:11.6px" textLength="82.5" lengthAdjust="spacingAndGlyphs">AUDUSD,Daily</text>
<rect x="313" y="777" width="1" height="13" fill="#6e6e6e"/>
<text x="324.0" y="788.6" fill="#6e6e6e" stroke="#6e6e6e" stroke-width="0.05" style="font-family:'Liberation Sans',Arial,sans-serif;font-size:11.6px" textLength="81.2" lengthAdjust="spacingAndGlyphs">USDCAD,Daily</text>
<rect x="417" y="777" width="1" height="13" fill="#6e6e6e"/>
<text x="428.0" y="788.6" fill="#6e6e6e" stroke="#6e6e6e" stroke-width="0.05" style="font-family:'Liberation Sans',Arial,sans-serif;font-size:11.6px" textLength="82.0" lengthAdjust="spacingAndGlyphs">USDCNH,Daily</text>
<rect x="521" y="777" width="1" height="13" fill="#6e6e6e"/>
<text x="533.0" y="788.6" fill="#6e6e6e" stroke="#6e6e6e" stroke-width="0.05" style="font-family:'Liberation Sans',Arial,sans-serif;font-size:11.6px" textLength="80.2" lengthAdjust="spacingAndGlyphs">EURUSD,Daily</text>
<rect x="625" y="777" width="1" height="13" fill="#6e6e6e"/>
<text x="636.7" y="788.6" fill="#6e6e6e" stroke="#6e6e6e" stroke-width="0.05" style="font-family:'Liberation Sans',Arial,sans-serif;font-size:11.6px" textLength="80.8" lengthAdjust="spacingAndGlyphs">GBPUSD,Daily</text>
<rect x="729" y="777" width="1" height="13" fill="#6e6e6e"/>
<text x="739.5" y="788.6" fill="#6e6e6e" stroke="#6e6e6e" stroke-width="0.05" style="font-family:'Liberation Sans',Arial,sans-serif;font-size:11.6px" textLength="70.0" lengthAdjust="spacingAndGlyphs">XAUUSD,H4</text>
<rect x="821" y="777" width="1" height="13" fill="#6e6e6e"/>
<text x="832.5" y="788.6" fill="#6e6e6e" stroke="#6e6e6e" stroke-width="0.05" style="font-family:'Liberation Sans',Arial,sans-serif;font-size:11.6px" textLength="60.2" lengthAdjust="spacingAndGlyphs">HK50,M15</text>
<rect x="905" y="777" width="1" height="13" fill="#6e6e6e"/>
<text x="915.8" y="788.6" fill="#6e6e6e" stroke="#6e6e6e" stroke-width="0.05" style="font-family:'Liberation Sans',Arial,sans-serif;font-size:11.6px" textLength="57.6" lengthAdjust="spacingAndGlyphs">UK100,H1</text>
<rect x="985" y="777" width="1" height="13" fill="#6e6e6e"/>
<text x="995.8" y="788.6" fill="#6e6e6e" stroke="#6e6e6e" stroke-width="0.05" style="font-family:'Liberation Sans',Arial,sans-serif;font-size:11.6px" textLength="57.1" lengthAdjust="spacingAndGlyphs">UK100,H1</text>
<rect x="1065" y="777" width="1" height="13" fill="#6e6e6e"/>
<text x="1076.0" y="788.6" fill="#6e6e6e" stroke="#6e6e6e" stroke-width="0.05" style="font-family:'Liberation Sans',Arial,sans-serif;font-size:11.6px" textLength="56.7" lengthAdjust="spacingAndGlyphs">GER30,H1</text>
<rect x="1145" y="777" width="1" height="13" fill="#6e6e6e"/>
<text x="1155.0" y="788.6" fill="#6e6e6e" stroke="#6e6e6e" stroke-width="0.05" style="font-family:'Liberation Sans',Arial,sans-serif;font-size:11.6px" textLength="55.1" lengthAdjust="spacingAndGlyphs">FRA40,H1</text>
<rect x="1221" y="777" width="1" height="13" fill="#6e6e6e"/>
<text x="1230.5" y="788.6" fill="#6e6e6e" stroke="#6e6e6e" stroke-width="0.05" style="font-family:'Liberation Sans',Arial,sans-serif;font-size:11.6px" textLength="51.3" lengthAdjust="spacingAndGlyphs">USOil,H1</text>
<rect x="1293" y="777" width="1" height="13" fill="#6e6e6e"/>
<text x="1302.7" y="788.6" fill="#6e6e6e" stroke="#6e6e6e" stroke-width="0.05" style="font-family:'Liberation Sans',Arial,sans-serif;font-size:11.6px" textLength="62.8" lengthAdjust="spacingAndGlyphs">USDJPY,H1</text>
<rect x="1377" y="777" width="1" height="13" fill="#6e6e6e"/>
<text x="1387.7" y="788.6" fill="#6e6e6e" stroke="#6e6e6e" stroke-width="0.05" style="font-family:'Liberation Sans',Arial,sans-serif;font-size:11.6px" textLength="73.4" lengthAdjust="spacingAndGlyphs">DJ30,Weekly</text>
<rect x="1473" y="777" width="1" height="13" fill="#6e6e6e"/>
<text x="1482.5" y="788.6" fill="#6e6e6e" stroke="#6e6e6e" stroke-width="0.05" style="font-family:'Liberation Sans',Arial,sans-serif;font-size:11.6px" textLength="79.4" lengthAdjust="spacingAndGlyphs">CHINA300,H1</text>
<rect x="1573" y="777" width="1" height="13" fill="#6e6e6e"/>
<text x="1582.8" y="788.6" fill="#6e6e6e" stroke="#6e6e6e" stroke-width="0.05" style="font-family:'Liberation Sans',Arial,sans-serif;font-size:11.6px" textLength="7.2" lengthAdjust="spacingAndGlyphs">U</text>
<rect x="1591" y="776" width="32" height="17" fill="#f0f0f0"/>
<path d="M1599 780 L1599 786 L1595.5 783 Z" fill="#a0a0a0"/>
<path d="M1614 780 L1614 786 L1617.5 783 Z" fill="#000"/>
</svg>
</body></html>
